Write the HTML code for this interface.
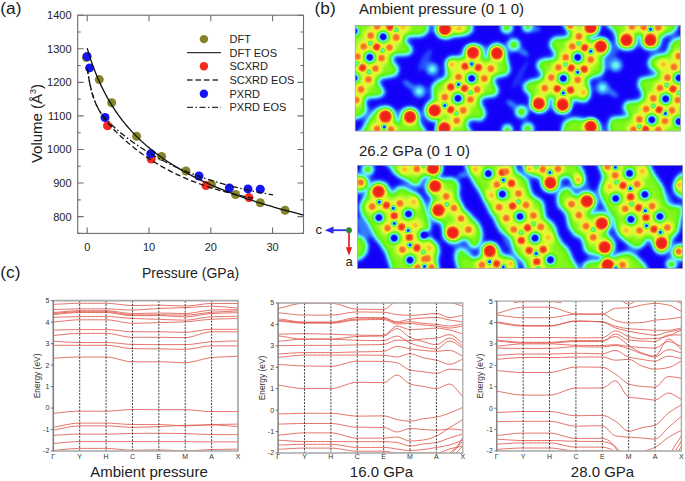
<!DOCTYPE html>
<html><head><meta charset="utf-8"><style>
html,body{margin:0;padding:0;background:#fff;}
svg{display:block;}
svg text{font-family:"Liberation Sans",sans-serif;}
</style></head><body>
<svg width="685" height="481" viewBox="0 0 685 481">
<rect width="685" height="481" fill="#fff"/>
<rect x="77.7" y="15.2" width="225.8" height="218.20000000000002" fill="none" stroke="#6e6e6e" stroke-width="1.1"/>
<path d="M77.7 216.62h6M303.5 216.62h-6M77.7 183.05h6M303.5 183.05h-6M77.7 149.48h6M303.5 149.48h-6M77.7 115.91h6M303.5 115.91h-6M77.7 82.34h6M303.5 82.34h-6M77.7 48.77h6M303.5 48.77h-6M77.7 15.20h6M303.5 15.20h-6M77.7 233.41h3M303.5 233.41h-3M77.7 199.83h3M303.5 199.83h-3M77.7 166.26h3M303.5 166.26h-3M77.7 132.69h3M303.5 132.69h-3M77.7 99.12h3M303.5 99.12h-3M77.7 65.55h3M303.5 65.55h-3M77.7 31.98h3M303.5 31.98h-3M87.20 233.4v-6M87.20 15.2v6M149.00 233.4v-6M149.00 15.2v6M210.80 233.4v-6M210.80 15.2v6M272.60 233.4v-6M272.60 15.2v6" stroke="#6e6e6e" stroke-width="1.1" fill="none"/>
<text x="71.6" y="220.52" text-anchor="end" font-size="11" fill="#222">800</text>
<text x="71.6" y="186.95" text-anchor="end" font-size="11" fill="#222">900</text>
<text x="71.6" y="153.38" text-anchor="end" font-size="11" fill="#222">1000</text>
<text x="71.6" y="119.81" text-anchor="end" font-size="11" fill="#222">1100</text>
<text x="71.6" y="86.24" text-anchor="end" font-size="11" fill="#222">1200</text>
<text x="71.6" y="52.67" text-anchor="end" font-size="11" fill="#222">1300</text>
<text x="71.6" y="19.10" text-anchor="end" font-size="11" fill="#222">1400</text>
<text x="87.20" y="251.2" text-anchor="middle" font-size="11" fill="#222">0</text>
<text x="149.00" y="251.2" text-anchor="middle" font-size="11" fill="#222">10</text>
<text x="210.80" y="251.2" text-anchor="middle" font-size="11" fill="#222">20</text>
<text x="272.60" y="251.2" text-anchor="middle" font-size="11" fill="#222">30</text>
<text x="190.5" y="277.5" text-anchor="middle" font-size="14" fill="#222">Pressure (GPa)</text>
<text transform="translate(41.5 123.5) rotate(-90)" text-anchor="middle" font-size="15" fill="#222">Volume (Å<tspan font-size="9" dy="-6">3</tspan><tspan dy="6">)</tspan></text>
<text x="0.3" y="13.6" font-size="17.3" fill="#222">(a)</text>
<g fill="#84842a"><circle cx="86.5" cy="57.5" r="4.5"/><circle cx="99.3" cy="79.6" r="4.5"/><circle cx="111.7" cy="102.8" r="4.5"/><circle cx="136.6" cy="136.3" r="4.5"/><circle cx="161.6" cy="156.4" r="4.5"/><circle cx="186.0" cy="171.0" r="4.5"/><circle cx="211.4" cy="184.2" r="4.5"/><circle cx="235.6" cy="194.5" r="4.5"/><circle cx="260.3" cy="202.7" r="4.5"/><circle cx="285.1" cy="210.2" r="4.5"/></g>
<g fill="#f42a1c"><circle cx="107.5" cy="125.7" r="4.5"/><circle cx="151.2" cy="159.1" r="4.5"/><circle cx="206.0" cy="185.6" r="4.5"/><circle cx="249.0" cy="197.6" r="4.5"/></g>
<g fill="#1414f4"><circle cx="87.1" cy="56.5" r="4.5"/><circle cx="89.6" cy="67.9" r="4.5"/><circle cx="105.0" cy="117.5" r="4.5"/><circle cx="150.8" cy="153.7" r="4.5"/><circle cx="199.0" cy="176.0" r="4.5"/><circle cx="229.4" cy="188.0" r="4.5"/><circle cx="248.0" cy="188.9" r="4.5"/><circle cx="260.3" cy="189.2" r="4.5"/></g>
<path d="M87.20 48.17 L89.02 54.22 L90.84 59.84 L92.65 65.08 L94.47 69.98 L96.29 74.58 L98.11 78.92 L99.92 83.01 L101.74 86.89 L103.56 90.57 L105.38 94.07 L107.19 97.41 L109.01 100.59 L110.83 103.64 L112.65 106.56 L114.46 109.36 L116.28 112.05 L118.10 114.63 L119.92 117.12 L121.74 119.53 L123.55 121.84 L125.37 124.08 L127.19 126.25 L129.01 128.34 L130.82 130.37 L132.64 132.34 L134.46 134.25 L136.28 136.11 L138.09 137.91 L139.91 139.66 L141.73 141.36 L143.55 143.02 L145.36 144.64 L147.18 146.21 L149.00 147.74 L150.82 149.24 L152.64 150.70 L154.45 152.13 L156.27 153.53 L158.09 154.89 L159.91 156.22 L161.72 157.52 L163.54 158.80 L165.36 160.05 L167.18 161.27 L168.99 162.47 L170.81 163.64 L172.63 164.80 L174.45 165.92 L176.26 167.03 L178.08 168.12 L179.90 169.18 L181.72 170.23 L183.54 171.26 L185.35 172.27 L187.17 173.26 L188.99 174.24 L190.81 175.19 L192.62 176.14 L194.44 177.06 L196.26 177.97 L198.08 178.87 L199.89 179.76 L201.71 180.62 L203.53 181.48 L205.35 182.32 L207.16 183.15 L208.98 183.97 L210.80 184.78 L212.62 185.57 L214.44 186.35 L216.25 187.12 L218.07 187.88 L219.89 188.63 L221.71 189.37 L223.52 190.10 L225.34 190.82 L227.16 191.53 L228.98 192.23 L230.79 192.92 L232.61 193.61 L234.43 194.28 L236.25 194.95 L238.06 195.60 L239.88 196.25 L241.70 196.90 L243.52 197.53 L245.34 198.16 L247.15 198.77 L248.97 199.38 L250.79 199.99 L252.61 200.59 L254.42 201.18 L256.24 201.76 L258.06 202.34 L259.88 202.91 L261.69 203.47 L263.51 204.03 L265.33 204.58 L267.15 205.13 L268.96 205.67 L270.78 206.21 L272.60 206.73 L274.42 207.26 L276.24 207.78 L278.05 208.29 L279.87 208.80 L281.69 209.30 L283.51 209.80 L285.32 210.29 L287.14 210.78 L288.96 211.26 L290.78 211.74 L292.59 212.22 L294.41 212.69 L296.23 213.15 L298.05 213.61 L299.86 214.07 L301.68 214.52 L303.50 214.97" stroke="#111" stroke-width="1.3" fill="none"/>
<path d="M87.20 68.18 L88.59 77.05 L89.99 84.27 L91.38 90.21 L92.77 95.17 L94.17 99.36 L95.56 102.97 L96.95 106.12 L98.35 108.90 L99.74 111.41 L101.13 113.70 L102.53 115.81 L103.92 117.78 L105.31 119.64 L106.71 121.40 L108.10 123.09 L109.49 124.71 L110.89 126.28 L112.28 127.80 L113.67 129.28 L115.07 130.72 L116.46 132.13 L117.85 133.51 L119.25 134.86 L120.64 136.18 L122.03 137.48 L123.43 138.75 L124.82 140.00 L126.21 141.23 L127.61 142.44 L129.00 143.63 L130.39 144.79 L131.78 145.94 L133.18 147.07 L134.57 148.18 L135.96 149.27 L137.36 150.34 L138.75 151.39 L140.14 152.43 L141.54 153.45 L142.93 154.45 L144.32 155.44 L145.72 156.41 L147.11 157.36 L148.50 158.30 L149.90 159.22 L151.29 160.13 L152.68 161.02 L154.08 161.90 L155.47 162.76 L156.86 163.61 L158.26 164.44 L159.65 165.27 L161.04 166.07 L162.44 166.87 L163.83 167.65 L165.22 168.42 L166.62 169.17 L168.01 169.92 L169.40 170.65 L170.80 171.37 L172.19 172.07 L173.58 172.77 L174.98 173.45 L176.37 174.13 L177.76 174.79 L179.16 175.44 L180.55 176.08 L181.94 176.71 L183.34 177.33 L184.73 177.94 L186.12 178.54 L187.52 179.13 L188.91 179.71 L190.30 180.28 L191.70 180.84 L193.09 181.39 L194.48 181.93 L195.88 182.46 L197.27 182.99 L198.66 183.50 L200.06 184.01 L201.45 184.51 L202.84 185.00 L204.24 185.48 L205.63 185.96 L207.02 186.42 L208.42 186.88 L209.81 187.34 L211.20 187.78 L212.59 188.22 L213.99 188.65 L215.38 189.07 L216.77 189.48 L218.17 189.89 L219.56 190.30 L220.95 190.69 L222.35 191.08 L223.74 191.46 L225.13 191.84 L226.53 192.21 L227.92 192.57 L229.31 192.93 L230.71 193.28 L232.10 193.63 L233.49 193.97 L234.89 194.30 L236.28 194.63 L237.67 194.96 L239.07 195.28 L240.46 195.59 L241.85 195.90 L243.25 196.20 L244.64 196.50 L246.03 196.79 L247.43 197.08 L248.82 197.37 L250.21 197.64 L251.61 197.92 L253.00 198.19" stroke="#111" stroke-width="1.3" fill="none" stroke-dasharray="5.5 3"/>
<path d="M87.20 67.92 L88.76 78.20 L90.32 86.21 L91.88 92.55 L93.45 97.65 L95.01 101.83 L96.57 105.32 L98.13 108.30 L99.69 110.90 L101.25 113.21 L102.81 115.29 L104.37 117.21 L105.94 119.00 L107.50 120.69 L109.06 122.29 L110.62 123.84 L112.18 125.32 L113.74 126.76 L115.30 128.16 L116.87 129.53 L118.43 130.87 L119.99 132.18 L121.55 133.46 L123.11 134.72 L124.67 135.95 L126.23 137.16 L127.79 138.36 L129.36 139.53 L130.92 140.68 L132.48 141.82 L134.04 142.93 L135.60 144.03 L137.16 145.11 L138.72 146.17 L140.29 147.21 L141.85 148.24 L143.41 149.25 L144.97 150.24 L146.53 151.22 L148.09 152.18 L149.65 153.12 L151.22 154.05 L152.78 154.97 L154.34 155.87 L155.90 156.76 L157.46 157.63 L159.02 158.49 L160.58 159.33 L162.14 160.16 L163.71 160.98 L165.27 161.78 L166.83 162.57 L168.39 163.35 L169.95 164.11 L171.51 164.87 L173.07 165.61 L174.64 166.34 L176.20 167.05 L177.76 167.76 L179.32 168.45 L180.88 169.14 L182.44 169.81 L184.00 170.47 L185.56 171.12 L187.13 171.76 L188.69 172.39 L190.25 173.01 L191.81 173.61 L193.37 174.21 L194.93 174.80 L196.49 175.38 L198.06 175.95 L199.62 176.52 L201.18 177.07 L202.74 177.61 L204.30 178.15 L205.86 178.67 L207.42 179.19 L208.98 179.70 L210.55 180.20 L212.11 180.69 L213.67 181.18 L215.23 181.65 L216.79 182.12 L218.35 182.58 L219.91 183.04 L221.48 183.48 L223.04 183.92 L224.60 184.36 L226.16 184.78 L227.72 185.20 L229.28 185.61 L230.84 186.02 L232.41 186.42 L233.97 186.81 L235.53 187.19 L237.09 187.57 L238.65 187.95 L240.21 188.31 L241.77 188.68 L243.33 189.03 L244.90 189.38 L246.46 189.73 L248.02 190.06 L249.58 190.40 L251.14 190.72 L252.70 191.05 L254.26 191.36 L255.83 191.68 L257.39 191.98 L258.95 192.29 L260.51 192.58 L262.07 192.88 L263.63 193.16 L265.19 193.45 L266.75 193.72 L268.32 194.00 L269.88 194.27 L271.44 194.53 L273.00 194.79" stroke="#111" stroke-width="1.3" fill="none" stroke-dasharray="6 2.5 1.5 2.5"/>
<circle cx="203.9" cy="39.1" r="4.2" fill="#84842a"/>
<circle cx="203.9" cy="66.2" r="4.2" fill="#f42a1c"/>
<circle cx="203.9" cy="93.8" r="4.2" fill="#1414f4"/>
<path d="M187 52.6H221" stroke="#333" stroke-width="1.3"/>
<path d="M187 80.0H221" stroke="#333" stroke-width="1.3" stroke-dasharray="5.5 3"/>
<path d="M187 107.4H221" stroke="#333" stroke-width="1.3" stroke-dasharray="6 2.5 1.5 2.5"/>
<text x="229.5" y="43.0" font-size="11" fill="#222">DFT</text>
<text x="229.5" y="56.5" font-size="11" fill="#222">DFT EOS</text>
<text x="229.5" y="70.1" font-size="11" fill="#222">SCXRD</text>
<text x="229.5" y="83.9" font-size="11" fill="#222">SCXRD EOS</text>
<text x="229.5" y="97.7" font-size="11" fill="#222">PXRD</text>
<text x="229.5" y="111.3" font-size="11" fill="#222">PXRD EOS</text>
<text x="314.6" y="13.8" font-size="17.3" fill="#222">(b)</text>
<text x="359" y="13.7" font-size="15" fill="#222">Ambient pressure (0 1 0)</text>
<text x="359" y="155.7" font-size="15" fill="#222">26.2 GPa (0 1 0)</text>
<clipPath id="f1c"><rect x="355.2" y="25.5" width="325.3" height="105.6"/></clipPath>
<clipPath id="f1p"><polygon points="350,20 426.6,20 426.6,25 427.2,28.5 425.4,32.6 420.7,34.9 413.8,34.9 407.9,35.5 405,37.8 404.5,41.3 406.2,44.8 409.7,47.1 410.9,50.6 409.1,52.9 403.3,54.1 396.3,53.5 392.2,55.3 391.1,59.3 392.8,64 396.3,66.9 397.1,70 395.3,74.1 388.9,75.8 382,76.4 377.9,79.3 377.3,83.4 380.2,87.5 383.1,92.1 380.8,95 375,96.2 368,96.2 364.5,99.1 363.9,103.8 365.6,108.4 364.5,113.1 359.8,116 356.3,117.2 350,118"/><polygon points="355,136 363,131 365.6,126 369.1,118.9 376.1,110.7 380.8,108.4 387.8,107.8 392.4,110.7 394.8,116.6 396.5,123.5 398,124.5 400.7,118.1 403,111.1 408.8,108.8 414.6,109.9 417.5,114.6 418.1,121.6 420.4,126.2 423.9,131 425,136"/><polygon points="435,20 437,25 436.4,30.8 440.5,36.1 447.5,37.2 453.3,34.9 460.3,34.3 467.3,33.2 471.3,29.7 470.7,25 470,20"/><polygon points="467.3,47.7 473.1,46 478.9,46.5 482.4,48.3 482.9,55.3 485.8,59.9 489.3,57.6 489.9,50.6 492.2,46.5 496.9,44.8 502.1,47.1 504.5,52.9 505.9,59.2 507.4,65.4 508.5,70.6 505.3,74.2 498.1,75.3 493.4,77.3 492.3,82 495,86.2 497,90.3 495,94.5 487.7,95.5 481.4,96.6 479.4,100.7 479.5,104.1 483,109.9 484.2,114.6 480.7,119.2 475,118 469.5,118.5 466,122 465.7,125.9 469.3,131 470,136 437.9,136 437.9,131 439.1,128.6 441.5,124.5 440.2,120.4 434.4,119.8 428.6,118.1 426.3,113.4 426.3,107.6 429.8,102.9 434.4,99.5 433.3,93.6 433.3,86.6 437.9,82 446,78.5 447.5,75.1 447.5,69.2 446.9,62.3 449.8,58.8 456.8,58.2 464.9,56.4 464.9,51.8"/><polygon points="565,20 565,25 569.1,28.5 570.2,34.3 567.9,37.8 562.1,38.4 556.3,38.4 552.2,40.7 551,45.4 553.9,49.5 556.3,52.9 555.7,58.2 551.6,59.9 545.8,59.9 540,61.7 538.2,65.7 540.5,69.8 543.5,72.7 542.9,76.2 540,79.7 529.5,82 524.8,85.5 526,90.1 530.6,93.6 531.8,99.5 533,106.4 537.6,111.1 543.4,110.5 546.9,106.4 548.1,98.3 551.6,96.5 553.9,98.3 554.5,106.4 557.4,111.1 563.2,111.7 567.9,109.9 570.2,104.1 572.6,98.3 578,99.5 585,100.6 588.5,96 588.5,89 587.3,82 587.8,78.6 592.5,76.2 600.6,73.9 603,69.2 602.4,63.4 602.4,57.6 605.3,54.1 608.8,50.6 608.8,45.4 605.3,40.7 599.4,39.6 593.6,40.7 589,39.6 587.8,35.5 591.3,32.6 597.1,29.7 598.3,25 598,20"/><polygon points="608,20 608.8,25 614.6,29.7 617.5,36.6 618.1,43.6 621.6,47.1 625,48.3 632,47.7 635.5,43.6 636.6,36.6 639,33.7 642.5,35.5 642.5,43.6 646,47.7 654.1,48.3 658.8,44.8 659.9,37.8 664.6,34.3 671.6,32 675.1,28.5 676.2,25 676,20"/><polygon points="690,37 679.7,39 673.9,40.7 670.4,45.4 669.8,50.6 665.7,54.7 657.6,55.9 651.8,58.2 649.4,63.4 651.8,68.1 657,70.4 657.6,73.9 655.9,77 650,77.9 640.6,79.7 639.5,85.5 643,91.3 644.1,97.1 640.6,101.2 633.7,102.4 627,103 624.6,107.6 628.1,112.3 629.2,116.9 624,118 616,118.5 611.8,119.2 609.5,126.2 610.6,131 610,136 690,136"/><polygon points="563,136 563.2,131 564.4,123.9 569.1,120.4 575,119.2 580,120 585,121 592,120.4 597.8,123.9 600.1,131 600,136"/></clipPath>
<filter id="f1" filterUnits="userSpaceOnUse" x="340" y="0" width="360" height="300" color-interpolation-filters="sRGB"><feComponentTransfer><feFuncR type="table" tableValues="0.078 0.086 0.118 0.176 0.275 0.373 0.412 0.373 0.333 0.353 0.431 0.588 0.765 0.882 0.961 0.961 0.961 0.961 0.961 0.949 0.941"/><feFuncG type="table" tableValues="0.000 0.039 0.196 0.431 0.667 0.882 0.980 0.980 0.973 0.961 0.961 0.973 0.980 0.973 0.922 0.765 0.588 0.451 0.314 0.196 0.137"/><feFuncB type="table" tableValues="0.980 0.980 0.988 1.000 1.000 0.980 0.902 0.588 0.275 0.098 0.078 0.137 0.196 0.196 0.176 0.176 0.176 0.157 0.137 0.110 0.098"/></feComponentTransfer></filter><filter id="f1B" filterUnits="userSpaceOnUse" x="340" y="0" width="360" height="300" color-interpolation-filters="sRGB"><feGaussianBlur stdDeviation="2.1"/></filter><filter id="f1S" filterUnits="userSpaceOnUse" x="340" y="0" width="360" height="300" color-interpolation-filters="sRGB"><feGaussianBlur stdDeviation="1.3"/></filter>
<g clip-path="url(#f1c)"><g filter="url(#f1)"><g filter="url(#f1B)">
<rect x="345.2" y="15.5" width="345.3" height="125.6" fill="#000"/>
<ellipse cx="523.0" cy="52.0" rx="8.0" ry="4.0" transform="rotate(35.0 523.0 52.0)" fill="#2b2b2b"/>
<ellipse cx="512.0" cy="104.5" rx="8.0" ry="4.0" transform="rotate(35.0 512.0 104.5)" fill="#2b2b2b"/>
<ellipse cx="409.0" cy="85.0" rx="9.0" ry="4.0" transform="rotate(35.0 409.0 85.0)" fill="#292929"/>
<ellipse cx="611.8" cy="92.5" rx="9.0" ry="4.0" transform="rotate(35.0 611.8 92.5)" fill="#292929"/>
<ellipse cx="535.0" cy="29.0" rx="7.0" ry="4.0" transform="rotate(0.0 535.0 29.0)" fill="#292929"/>
<ellipse cx="425.0" cy="60.0" rx="5.0" ry="14.0" transform="rotate(30.0 425.0 60.0)" fill="#1f1f1f"/>
<ellipse cx="612.0" cy="55.0" rx="5.0" ry="14.0" transform="rotate(30.0 612.0 55.0)" fill="#1f1f1f"/>
<ellipse cx="520.0" cy="75.0" rx="4.0" ry="18.0" transform="rotate(30.0 520.0 75.0)" fill="#1a1a1a"/>
<g fill="none" stroke="#292929" stroke-width="9" stroke-linejoin="round"><polygon points="350,20 426.6,20 426.6,25 427.2,28.5 425.4,32.6 420.7,34.9 413.8,34.9 407.9,35.5 405,37.8 404.5,41.3 406.2,44.8 409.7,47.1 410.9,50.6 409.1,52.9 403.3,54.1 396.3,53.5 392.2,55.3 391.1,59.3 392.8,64 396.3,66.9 397.1,70 395.3,74.1 388.9,75.8 382,76.4 377.9,79.3 377.3,83.4 380.2,87.5 383.1,92.1 380.8,95 375,96.2 368,96.2 364.5,99.1 363.9,103.8 365.6,108.4 364.5,113.1 359.8,116 356.3,117.2 350,118"/><polygon points="355,136 363,131 365.6,126 369.1,118.9 376.1,110.7 380.8,108.4 387.8,107.8 392.4,110.7 394.8,116.6 396.5,123.5 398,124.5 400.7,118.1 403,111.1 408.8,108.8 414.6,109.9 417.5,114.6 418.1,121.6 420.4,126.2 423.9,131 425,136"/><polygon points="435,20 437,25 436.4,30.8 440.5,36.1 447.5,37.2 453.3,34.9 460.3,34.3 467.3,33.2 471.3,29.7 470.7,25 470,20"/><polygon points="467.3,47.7 473.1,46 478.9,46.5 482.4,48.3 482.9,55.3 485.8,59.9 489.3,57.6 489.9,50.6 492.2,46.5 496.9,44.8 502.1,47.1 504.5,52.9 505.9,59.2 507.4,65.4 508.5,70.6 505.3,74.2 498.1,75.3 493.4,77.3 492.3,82 495,86.2 497,90.3 495,94.5 487.7,95.5 481.4,96.6 479.4,100.7 479.5,104.1 483,109.9 484.2,114.6 480.7,119.2 475,118 469.5,118.5 466,122 465.7,125.9 469.3,131 470,136 437.9,136 437.9,131 439.1,128.6 441.5,124.5 440.2,120.4 434.4,119.8 428.6,118.1 426.3,113.4 426.3,107.6 429.8,102.9 434.4,99.5 433.3,93.6 433.3,86.6 437.9,82 446,78.5 447.5,75.1 447.5,69.2 446.9,62.3 449.8,58.8 456.8,58.2 464.9,56.4 464.9,51.8"/><polygon points="565,20 565,25 569.1,28.5 570.2,34.3 567.9,37.8 562.1,38.4 556.3,38.4 552.2,40.7 551,45.4 553.9,49.5 556.3,52.9 555.7,58.2 551.6,59.9 545.8,59.9 540,61.7 538.2,65.7 540.5,69.8 543.5,72.7 542.9,76.2 540,79.7 529.5,82 524.8,85.5 526,90.1 530.6,93.6 531.8,99.5 533,106.4 537.6,111.1 543.4,110.5 546.9,106.4 548.1,98.3 551.6,96.5 553.9,98.3 554.5,106.4 557.4,111.1 563.2,111.7 567.9,109.9 570.2,104.1 572.6,98.3 578,99.5 585,100.6 588.5,96 588.5,89 587.3,82 587.8,78.6 592.5,76.2 600.6,73.9 603,69.2 602.4,63.4 602.4,57.6 605.3,54.1 608.8,50.6 608.8,45.4 605.3,40.7 599.4,39.6 593.6,40.7 589,39.6 587.8,35.5 591.3,32.6 597.1,29.7 598.3,25 598,20"/><polygon points="608,20 608.8,25 614.6,29.7 617.5,36.6 618.1,43.6 621.6,47.1 625,48.3 632,47.7 635.5,43.6 636.6,36.6 639,33.7 642.5,35.5 642.5,43.6 646,47.7 654.1,48.3 658.8,44.8 659.9,37.8 664.6,34.3 671.6,32 675.1,28.5 676.2,25 676,20"/><polygon points="690,37 679.7,39 673.9,40.7 670.4,45.4 669.8,50.6 665.7,54.7 657.6,55.9 651.8,58.2 649.4,63.4 651.8,68.1 657,70.4 657.6,73.9 655.9,77 650,77.9 640.6,79.7 639.5,85.5 643,91.3 644.1,97.1 640.6,101.2 633.7,102.4 627,103 624.6,107.6 628.1,112.3 629.2,116.9 624,118 616,118.5 611.8,119.2 609.5,126.2 610.6,131 610,136 690,136"/><polygon points="563,136 563.2,131 564.4,123.9 569.1,120.4 575,119.2 580,120 585,121 592,120.4 597.8,123.9 600.1,131 600,136"/></g>
<circle cx="506.8" cy="27.3" r="8.5" fill="#292929"/>
<circle cx="527.7" cy="26.7" r="7.7" fill="#292929"/>
<circle cx="513.8" cy="44.8" r="8.7" fill="#292929"/>
<circle cx="521.4" cy="111.7" r="8.7" fill="#292929"/>
<circle cx="507.4" cy="129.7" r="7.7" fill="#292929"/>
<circle cx="527.7" cy="128.6" r="8.5" fill="#292929"/>
<circle cx="432.3" cy="69.2" r="7.9" fill="#292929"/>
<circle cx="419.3" cy="91.3" r="8.1" fill="#292929"/>
<circle cx="615.7" cy="65.2" r="8.3" fill="#292929"/>
<circle cx="602.5" cy="87.8" r="8.1" fill="#292929"/>
<g fill="#858585"><polygon points="350,20 426.6,20 426.6,25 427.2,28.5 425.4,32.6 420.7,34.9 413.8,34.9 407.9,35.5 405,37.8 404.5,41.3 406.2,44.8 409.7,47.1 410.9,50.6 409.1,52.9 403.3,54.1 396.3,53.5 392.2,55.3 391.1,59.3 392.8,64 396.3,66.9 397.1,70 395.3,74.1 388.9,75.8 382,76.4 377.9,79.3 377.3,83.4 380.2,87.5 383.1,92.1 380.8,95 375,96.2 368,96.2 364.5,99.1 363.9,103.8 365.6,108.4 364.5,113.1 359.8,116 356.3,117.2 350,118"/><polygon points="355,136 363,131 365.6,126 369.1,118.9 376.1,110.7 380.8,108.4 387.8,107.8 392.4,110.7 394.8,116.6 396.5,123.5 398,124.5 400.7,118.1 403,111.1 408.8,108.8 414.6,109.9 417.5,114.6 418.1,121.6 420.4,126.2 423.9,131 425,136"/><polygon points="435,20 437,25 436.4,30.8 440.5,36.1 447.5,37.2 453.3,34.9 460.3,34.3 467.3,33.2 471.3,29.7 470.7,25 470,20"/><polygon points="467.3,47.7 473.1,46 478.9,46.5 482.4,48.3 482.9,55.3 485.8,59.9 489.3,57.6 489.9,50.6 492.2,46.5 496.9,44.8 502.1,47.1 504.5,52.9 505.9,59.2 507.4,65.4 508.5,70.6 505.3,74.2 498.1,75.3 493.4,77.3 492.3,82 495,86.2 497,90.3 495,94.5 487.7,95.5 481.4,96.6 479.4,100.7 479.5,104.1 483,109.9 484.2,114.6 480.7,119.2 475,118 469.5,118.5 466,122 465.7,125.9 469.3,131 470,136 437.9,136 437.9,131 439.1,128.6 441.5,124.5 440.2,120.4 434.4,119.8 428.6,118.1 426.3,113.4 426.3,107.6 429.8,102.9 434.4,99.5 433.3,93.6 433.3,86.6 437.9,82 446,78.5 447.5,75.1 447.5,69.2 446.9,62.3 449.8,58.8 456.8,58.2 464.9,56.4 464.9,51.8"/><polygon points="565,20 565,25 569.1,28.5 570.2,34.3 567.9,37.8 562.1,38.4 556.3,38.4 552.2,40.7 551,45.4 553.9,49.5 556.3,52.9 555.7,58.2 551.6,59.9 545.8,59.9 540,61.7 538.2,65.7 540.5,69.8 543.5,72.7 542.9,76.2 540,79.7 529.5,82 524.8,85.5 526,90.1 530.6,93.6 531.8,99.5 533,106.4 537.6,111.1 543.4,110.5 546.9,106.4 548.1,98.3 551.6,96.5 553.9,98.3 554.5,106.4 557.4,111.1 563.2,111.7 567.9,109.9 570.2,104.1 572.6,98.3 578,99.5 585,100.6 588.5,96 588.5,89 587.3,82 587.8,78.6 592.5,76.2 600.6,73.9 603,69.2 602.4,63.4 602.4,57.6 605.3,54.1 608.8,50.6 608.8,45.4 605.3,40.7 599.4,39.6 593.6,40.7 589,39.6 587.8,35.5 591.3,32.6 597.1,29.7 598.3,25 598,20"/><polygon points="608,20 608.8,25 614.6,29.7 617.5,36.6 618.1,43.6 621.6,47.1 625,48.3 632,47.7 635.5,43.6 636.6,36.6 639,33.7 642.5,35.5 642.5,43.6 646,47.7 654.1,48.3 658.8,44.8 659.9,37.8 664.6,34.3 671.6,32 675.1,28.5 676.2,25 676,20"/><polygon points="690,37 679.7,39 673.9,40.7 670.4,45.4 669.8,50.6 665.7,54.7 657.6,55.9 651.8,58.2 649.4,63.4 651.8,68.1 657,70.4 657.6,73.9 655.9,77 650,77.9 640.6,79.7 639.5,85.5 643,91.3 644.1,97.1 640.6,101.2 633.7,102.4 627,103 624.6,107.6 628.1,112.3 629.2,116.9 624,118 616,118.5 611.8,119.2 609.5,126.2 610.6,131 610,136 690,136"/><polygon points="563,136 563.2,131 564.4,123.9 569.1,120.4 575,119.2 580,120 585,121 592,120.4 597.8,123.9 600.1,131 600,136"/></g>
<circle cx="506.8" cy="27.3" r="5.2" fill="#606060"/>
<circle cx="527.7" cy="26.7" r="4.4" fill="#606060"/>
<circle cx="513.8" cy="44.8" r="5.4" fill="#606060"/>
<circle cx="521.4" cy="111.7" r="5.4" fill="#606060"/>
<circle cx="507.4" cy="129.7" r="4.4" fill="#606060"/>
<circle cx="527.7" cy="128.6" r="5.2" fill="#606060"/>
<circle cx="432.3" cy="69.2" r="4.6" fill="#3f3f3f"/>
<circle cx="419.3" cy="91.3" r="4.8" fill="#3f3f3f"/>
<circle cx="615.7" cy="65.2" r="5.0" fill="#3f3f3f"/>
<circle cx="602.5" cy="87.8" r="4.8" fill="#3f3f3f"/>
<g fill="#a8a8a8" clip-path="url(#f1p)"><circle cx="377.2" cy="26.5" r="7"/><circle cx="390.0" cy="27.0" r="7"/><circle cx="403.0" cy="27.0" r="7"/><circle cx="370.6" cy="35.6" r="7"/><circle cx="396.2" cy="37.4" r="7"/><circle cx="363.7" cy="46.5" r="7"/><circle cx="376.7" cy="47.0" r="7"/><circle cx="389.5" cy="47.5" r="7"/><circle cx="357.4" cy="56.5" r="7"/><circle cx="381.5" cy="58.2" r="7"/><circle cx="362.5" cy="67.7" r="7"/><circle cx="375.5" cy="68.5" r="7"/><circle cx="368.5" cy="79.5" r="7"/><circle cx="361.0" cy="89.4" r="7"/><circle cx="356.2" cy="100.1" r="7"/><circle cx="383.2" cy="36.8" r="7.5"/><circle cx="369.8" cy="57.3" r="7.5"/><circle cx="354.0" cy="31.0" r="7.5"/><circle cx="354.0" cy="78.0" r="7.5"/><circle cx="396.2" cy="29.7" r="6.5"/><circle cx="370.6" cy="43.3" r="6.5"/><circle cx="382.5" cy="50.5" r="6.5"/><circle cx="357.0" cy="63.8" r="6.5"/><circle cx="368.7" cy="72.0" r="6.5"/><circle cx="384.3" cy="127.1" r="6.5"/><circle cx="377.1" cy="128.9" r="7"/><circle cx="390.9" cy="129.5" r="7"/><circle cx="459.1" cy="28.5" r="7"/><circle cx="471.7" cy="63.9" r="6.5"/><circle cx="465.1" cy="66.3" r="7"/><circle cx="478.3" cy="67.5" r="7"/><circle cx="490.9" cy="68.7" r="7"/><circle cx="451.4" cy="64.5" r="7"/><circle cx="458.5" cy="77.0" r="7"/><circle cx="471.7" cy="78.5" r="7.5"/><circle cx="484.3" cy="78.5" r="7"/><circle cx="458.5" cy="84.6" r="6.5"/><circle cx="450.8" cy="87.0" r="7"/><circle cx="464.5" cy="88.2" r="7"/><circle cx="477.1" cy="89.4" r="7"/><circle cx="470.5" cy="92.4" r="6.5"/><circle cx="444.8" cy="97.2" r="7"/><circle cx="458.0" cy="98.4" r="7.5"/><circle cx="470.5" cy="99.5" r="7"/><circle cx="444.8" cy="105.5" r="6.5"/><circle cx="450.8" cy="109.7" r="7"/><circle cx="463.3" cy="110.3" r="7"/><circle cx="456.2" cy="113.3" r="6.5"/><circle cx="456.8" cy="120.5" r="7"/><circle cx="578.9" cy="36.4" r="7"/><circle cx="578.9" cy="43.6" r="6.5"/><circle cx="572.3" cy="46.5" r="7"/><circle cx="584.8" cy="47.7" r="7"/><circle cx="590.8" cy="51.3" r="6.5"/><circle cx="565.7" cy="57.3" r="7"/><circle cx="577.7" cy="57.3" r="7.5"/><circle cx="590.8" cy="59.7" r="7"/><circle cx="565.7" cy="64.5" r="6.5"/><circle cx="558.5" cy="67.5" r="7"/><circle cx="571.1" cy="68.1" r="7"/><circle cx="584.2" cy="69.3" r="7"/><circle cx="577.7" cy="72.3" r="6.5"/><circle cx="551.3" cy="77.5" r="7"/><circle cx="563.3" cy="78.5" r="7.5"/><circle cx="577.7" cy="79.8" r="7"/><circle cx="544.7" cy="88.2" r="7"/><circle cx="557.3" cy="88.8" r="7"/><circle cx="563.3" cy="93.0" r="6.5"/><circle cx="570.5" cy="90.0" r="7"/><circle cx="583.6" cy="92.4" r="7"/><circle cx="570.0" cy="26.0" r="7"/><circle cx="667.4" cy="77.6" r="7"/><circle cx="666.8" cy="85.0" r="6.5"/><circle cx="660.0" cy="88.0" r="7"/><circle cx="673.0" cy="89.0" r="7"/><circle cx="678.6" cy="93.0" r="6.5"/><circle cx="653.3" cy="98.3" r="7"/><circle cx="665.7" cy="98.9" r="7.5"/><circle cx="677.8" cy="100.0" r="7"/><circle cx="653.3" cy="106.0" r="6.5"/><circle cx="646.2" cy="109.0" r="7"/><circle cx="659.2" cy="109.8" r="7"/><circle cx="665.4" cy="113.4" r="6.5"/><circle cx="672.0" cy="110.4" r="7"/><circle cx="639.4" cy="119.3" r="7"/><circle cx="651.8" cy="119.8" r="7.5"/><circle cx="665.0" cy="121.0" r="7"/><circle cx="679.0" cy="121.6" r="7.5"/><circle cx="639.4" cy="126.7" r="6.5"/><circle cx="645.6" cy="129.3" r="7"/><circle cx="633.5" cy="129.7" r="7"/><circle cx="658.3" cy="129.8" r="7"/><circle cx="674.0" cy="66.9" r="7"/><circle cx="678.7" cy="56.2" r="7"/><circle cx="663.4" cy="64.6" r="7"/><circle cx="679.0" cy="78.0" r="7.5"/><circle cx="632.0" cy="26.5" r="7"/><circle cx="643.8" cy="27.0" r="7"/><circle cx="658.3" cy="27.3" r="7"/><circle cx="650.6" cy="29.2" r="6.5"/></g>
<circle cx="383.2" cy="36.8" r="5.1" fill="#000000"/>
<circle cx="369.8" cy="57.3" r="5.1" fill="#000000"/>
<circle cx="354.0" cy="31.0" r="5.1" fill="#000000"/>
<circle cx="354.0" cy="78.0" r="5.1" fill="#000000"/>
<circle cx="385.5" cy="116.3" r="7.6" fill="#cccccc"/>
<circle cx="410.1" cy="116.9" r="7.6" fill="#cccccc"/>
<circle cx="444.8" cy="29.2" r="7.6" fill="#cccccc"/>
<circle cx="472.9" cy="52.5" r="7.6" fill="#cccccc"/>
<circle cx="496.9" cy="53.1" r="7.6" fill="#cccccc"/>
<circle cx="471.7" cy="78.5" r="5.1" fill="#000000"/>
<circle cx="458.0" cy="98.4" r="5.1" fill="#000000"/>
<circle cx="434.5" cy="110.5" r="7.6" fill="#cccccc"/>
<circle cx="444.2" cy="128.3" r="7.6" fill="#cccccc"/>
<circle cx="590.8" cy="27.4" r="7.6" fill="#cccccc"/>
<circle cx="601.0" cy="46.3" r="7.6" fill="#cccccc"/>
<circle cx="577.7" cy="57.3" r="5.1" fill="#000000"/>
<circle cx="563.3" cy="78.5" r="5.1" fill="#000000"/>
<circle cx="538.8" cy="103.7" r="7.6" fill="#cccccc"/>
<circle cx="562.7" cy="104.9" r="7.6" fill="#cccccc"/>
<circle cx="665.7" cy="98.9" r="5.1" fill="#000000"/>
<circle cx="651.8" cy="119.8" r="5.1" fill="#000000"/>
<circle cx="679.0" cy="121.6" r="5.1" fill="#000000"/>
<circle cx="679.0" cy="78.0" r="5.1" fill="#000000"/>
<circle cx="590.8" cy="126.6" r="7.6" fill="#cccccc"/>
<circle cx="626.4" cy="40.1" r="7.6" fill="#cccccc"/>
<circle cx="650.4" cy="40.1" r="7.6" fill="#cccccc"/>
</g>
<g filter="url(#f1S)">
<circle cx="506.8" cy="27.3" r="2.4" fill="#808080"/>
<circle cx="527.7" cy="26.7" r="1.92" fill="#808080"/>
<circle cx="513.8" cy="44.8" r="2.52" fill="#808080"/>
<circle cx="521.4" cy="111.7" r="2.52" fill="#808080"/>
<circle cx="507.4" cy="129.7" r="1.92" fill="#808080"/>
<circle cx="527.7" cy="128.6" r="2.4" fill="#808080"/>
<circle cx="432.3" cy="69.2" r="2.04" fill="#545454"/>
<circle cx="419.3" cy="91.3" r="2.16" fill="#545454"/>
<circle cx="615.7" cy="65.2" r="2.28" fill="#545454"/>
<circle cx="602.5" cy="87.8" r="2.16" fill="#545454"/>
<circle cx="377.2" cy="26.5" r="3.6" fill="#dbdbdb"/>
<circle cx="390.0" cy="27.0" r="3.8" fill="#f2f2f2"/>
<circle cx="403.0" cy="27.0" r="3.0" fill="#c2c2c2"/>
<circle cx="370.6" cy="35.6" r="3.6" fill="#dbdbdb"/>
<circle cx="396.2" cy="37.4" r="3.6" fill="#dbdbdb"/>
<circle cx="363.7" cy="46.5" r="3.6" fill="#dbdbdb"/>
<circle cx="376.7" cy="47.0" r="3.8" fill="#f2f2f2"/>
<circle cx="389.5" cy="47.5" r="3.6" fill="#dbdbdb"/>
<circle cx="357.4" cy="56.5" r="3.6" fill="#dbdbdb"/>
<circle cx="381.5" cy="58.2" r="3.6" fill="#dbdbdb"/>
<circle cx="362.5" cy="67.7" r="3.8" fill="#f2f2f2"/>
<circle cx="375.5" cy="68.5" r="3.6" fill="#dbdbdb"/>
<circle cx="368.5" cy="79.5" r="3.6" fill="#dbdbdb"/>
<circle cx="361.0" cy="89.4" r="3.6" fill="#dbdbdb"/>
<circle cx="356.2" cy="100.1" r="3.6" fill="#dbdbdb"/>
<circle cx="383.2" cy="36.8" r="2.6" fill="#000000"/>
<circle cx="369.8" cy="57.3" r="2.6" fill="#000000"/>
<circle cx="354.0" cy="31.0" r="2.6" fill="#000000"/>
<circle cx="354.0" cy="78.0" r="2.6" fill="#000000"/>
<circle cx="396.2" cy="29.7" r="2.0" fill="#262626"/>
<circle cx="370.6" cy="43.3" r="2.0" fill="#262626"/>
<circle cx="382.5" cy="50.5" r="2.0" fill="#262626"/>
<circle cx="357.0" cy="63.8" r="2.0" fill="#262626"/>
<circle cx="368.7" cy="72.0" r="2.0" fill="#262626"/>
<circle cx="385.5" cy="116.3" r="5.8" fill="#ffffff"/>
<circle cx="410.1" cy="116.9" r="5.8" fill="#ffffff"/>
<circle cx="384.3" cy="127.1" r="2.5" fill="#000000"/>
<circle cx="377.1" cy="128.9" r="3.6" fill="#dbdbdb"/>
<circle cx="390.9" cy="129.5" r="3.6" fill="#dbdbdb"/>
<circle cx="444.8" cy="29.2" r="5.8" fill="#ffffff"/>
<circle cx="459.1" cy="28.5" r="3.0" fill="#c2c2c2"/>
<circle cx="472.9" cy="52.5" r="5.8" fill="#ffffff"/>
<circle cx="496.9" cy="53.1" r="5.8" fill="#ffffff"/>
<circle cx="471.7" cy="63.9" r="2.5" fill="#000000"/>
<circle cx="465.1" cy="66.3" r="3.8" fill="#f2f2f2"/>
<circle cx="478.3" cy="67.5" r="3.8" fill="#f2f2f2"/>
<circle cx="490.9" cy="68.7" r="3.6" fill="#dbdbdb"/>
<circle cx="451.4" cy="64.5" r="3.0" fill="#c2c2c2"/>
<circle cx="458.5" cy="77.0" r="3.6" fill="#dbdbdb"/>
<circle cx="471.7" cy="78.5" r="2.6" fill="#000000"/>
<circle cx="484.3" cy="78.5" r="3.6" fill="#dbdbdb"/>
<circle cx="458.5" cy="84.6" r="2.5" fill="#000000"/>
<circle cx="450.8" cy="87.0" r="3.8" fill="#f2f2f2"/>
<circle cx="464.5" cy="88.2" r="3.8" fill="#f2f2f2"/>
<circle cx="477.1" cy="89.4" r="3.6" fill="#dbdbdb"/>
<circle cx="470.5" cy="92.4" r="2.0" fill="#262626"/>
<circle cx="444.8" cy="97.2" r="3.6" fill="#dbdbdb"/>
<circle cx="458.0" cy="98.4" r="2.6" fill="#000000"/>
<circle cx="470.5" cy="99.5" r="3.6" fill="#dbdbdb"/>
<circle cx="444.8" cy="105.5" r="2.5" fill="#000000"/>
<circle cx="450.8" cy="109.7" r="3.8" fill="#f2f2f2"/>
<circle cx="463.3" cy="110.3" r="3.6" fill="#dbdbdb"/>
<circle cx="456.2" cy="113.3" r="2.0" fill="#262626"/>
<circle cx="434.5" cy="110.5" r="5.8" fill="#ffffff"/>
<circle cx="456.8" cy="120.5" r="3.6" fill="#dbdbdb"/>
<circle cx="444.2" cy="128.3" r="5.8" fill="#ffffff"/>
<circle cx="590.8" cy="27.4" r="5.8" fill="#ffffff"/>
<circle cx="601.0" cy="46.3" r="5.8" fill="#ffffff"/>
<circle cx="578.9" cy="36.4" r="3.6" fill="#dbdbdb"/>
<circle cx="578.9" cy="43.6" r="2.0" fill="#262626"/>
<circle cx="572.3" cy="46.5" r="3.6" fill="#dbdbdb"/>
<circle cx="584.8" cy="47.7" r="3.8" fill="#f2f2f2"/>
<circle cx="590.8" cy="51.3" r="2.5" fill="#000000"/>
<circle cx="565.7" cy="57.3" r="3.6" fill="#dbdbdb"/>
<circle cx="577.7" cy="57.3" r="2.6" fill="#000000"/>
<circle cx="590.8" cy="59.7" r="3.6" fill="#dbdbdb"/>
<circle cx="565.7" cy="64.5" r="2.0" fill="#262626"/>
<circle cx="558.5" cy="67.5" r="3.6" fill="#dbdbdb"/>
<circle cx="571.1" cy="68.1" r="3.8" fill="#f2f2f2"/>
<circle cx="584.2" cy="69.3" r="3.8" fill="#f2f2f2"/>
<circle cx="577.7" cy="72.3" r="2.5" fill="#000000"/>
<circle cx="551.3" cy="77.5" r="3.6" fill="#dbdbdb"/>
<circle cx="563.3" cy="78.5" r="2.6" fill="#000000"/>
<circle cx="577.7" cy="79.8" r="3.6" fill="#dbdbdb"/>
<circle cx="544.7" cy="88.2" r="3.6" fill="#dbdbdb"/>
<circle cx="557.3" cy="88.8" r="3.8" fill="#f2f2f2"/>
<circle cx="563.3" cy="93.0" r="2.5" fill="#000000"/>
<circle cx="570.5" cy="90.0" r="3.8" fill="#f2f2f2"/>
<circle cx="583.6" cy="92.4" r="3.0" fill="#c2c2c2"/>
<circle cx="538.8" cy="103.7" r="5.8" fill="#ffffff"/>
<circle cx="562.7" cy="104.9" r="5.8" fill="#ffffff"/>
<circle cx="570.0" cy="26.0" r="3.6" fill="#dbdbdb"/>
<circle cx="667.4" cy="77.6" r="3.6" fill="#dbdbdb"/>
<circle cx="666.8" cy="85.0" r="2.0" fill="#262626"/>
<circle cx="660.0" cy="88.0" r="3.6" fill="#dbdbdb"/>
<circle cx="673.0" cy="89.0" r="3.8" fill="#f2f2f2"/>
<circle cx="678.6" cy="93.0" r="2.0" fill="#262626"/>
<circle cx="653.3" cy="98.3" r="3.6" fill="#dbdbdb"/>
<circle cx="665.7" cy="98.9" r="2.6" fill="#000000"/>
<circle cx="677.8" cy="100.0" r="3.6" fill="#dbdbdb"/>
<circle cx="653.3" cy="106.0" r="2.0" fill="#262626"/>
<circle cx="646.2" cy="109.0" r="3.6" fill="#dbdbdb"/>
<circle cx="659.2" cy="109.8" r="3.8" fill="#f2f2f2"/>
<circle cx="665.4" cy="113.4" r="2.5" fill="#000000"/>
<circle cx="672.0" cy="110.4" r="3.6" fill="#dbdbdb"/>
<circle cx="639.4" cy="119.3" r="3.6" fill="#dbdbdb"/>
<circle cx="651.8" cy="119.8" r="2.6" fill="#000000"/>
<circle cx="665.0" cy="121.0" r="3.6" fill="#dbdbdb"/>
<circle cx="679.0" cy="121.6" r="2.6" fill="#000000"/>
<circle cx="639.4" cy="126.7" r="2.0" fill="#262626"/>
<circle cx="645.6" cy="129.3" r="3.8" fill="#f2f2f2"/>
<circle cx="633.5" cy="129.7" r="3.6" fill="#dbdbdb"/>
<circle cx="658.3" cy="129.8" r="3.6" fill="#dbdbdb"/>
<circle cx="674.0" cy="66.9" r="3.6" fill="#dbdbdb"/>
<circle cx="678.7" cy="56.2" r="3.6" fill="#dbdbdb"/>
<circle cx="663.4" cy="64.6" r="3.0" fill="#c2c2c2"/>
<circle cx="679.0" cy="78.0" r="2.6" fill="#000000"/>
<circle cx="590.8" cy="126.6" r="5.8" fill="#ffffff"/>
<circle cx="626.4" cy="40.1" r="5.8" fill="#ffffff"/>
<circle cx="650.4" cy="40.1" r="5.8" fill="#ffffff"/>
<circle cx="632.0" cy="26.5" r="3.6" fill="#dbdbdb"/>
<circle cx="643.8" cy="27.0" r="3.6" fill="#dbdbdb"/>
<circle cx="658.3" cy="27.3" r="3.6" fill="#dbdbdb"/>
<circle cx="650.6" cy="29.2" r="2.5" fill="#000000"/>
</g></g></g>
<rect x="355.2" y="25.5" width="325.3" height="105.6" fill="none" stroke="#9a9a9a" stroke-width="0.7"/>
<clipPath id="f2c"><rect x="357.5" y="165.3" width="325.20000000000005" height="103.19999999999999"/></clipPath>
<clipPath id="f2p"><polygon points="350,175 357,175.8 363.5,176.9 367.8,181.2 367.3,186.6 363.5,189.9 357,191 350,191"/><polygon points="350,236 357,236.3 362.8,238.6 366.3,245.6 365.1,252.6 360.5,257.2 357,258.4 350,258.4"/><polygon points="385,160 389.4,165 391.6,165 393.8,170.4 395,172 399.7,175.5 406.6,179 412.5,183.6 418.3,184.8 420,180.1 422.9,176.6 429.9,175.5 438,173.7 440.4,169.7 440.4,165 441,160"/><polygon points="371.1,187.7 373.2,183.9 378.6,182.8 385.1,184.5 388.4,189.9 391,193.5 394.8,193 398.5,188.3 404.3,188.3 410.1,191.8 417.1,195.3 420.6,199.9 424.1,205.7 425.3,211.5 427.6,217.4 428.7,221 429,226 427.5,231 428.5,238 433,242 437,246 438,252 436,258 436,264 437,269 438,275 390,275 393.1,269 391.9,266.5 389.6,259.5 387.3,252.6 383.8,246.7 379.5,240.5 375.8,236.8 372.7,230.5 369.6,224.3 365.4,218.1 362.3,212.9 361.2,206.6 363.3,201.4 366.4,196.2 367.5,190"/><polygon points="434.6,179 429.9,181.3 427,185.9 427.6,190.6 431.1,195.3 433.4,198.7 432.2,202.2 431.1,206.9 431.1,213.9 433.4,218.5 438,220.5 442.5,222.5 444.1,228.1 445.1,237.3 451.2,242.4 457.4,241.4 463.5,238.3 467.6,239.3 470.7,244.4 473.7,247 477.8,245.4 479.9,240.3 480.9,235.2 479.9,229.1 477,223.5 472.5,219 467,213 464.5,211.5 461.3,206.1 458,199.6 457,193.1 458,186.6 455.9,181.2 450.5,179.1 441.5,180.1"/><polygon points="466,160 466.7,165 469.9,171.5 474.2,181.2 478.6,187.7 481.8,193.1 485.1,199.6 488.3,206.1 491.5,212.6 495,217 498,224 502,231 508,235 511.5,239 513.5,246 515,252 519,256.5 523.5,260 526,265 527,269 527,275 577,275 576.6,268.4 574.2,264.7 570.7,258.9 568.4,253 566.1,248.4 561.4,244.9 557.9,239 555.4,235 554.4,228.7 551.2,223.5 545,219.5 543.5,215 542.8,208.2 541.8,202.8 537.4,199.6 533.1,197.4 529.9,193.1 528.2,186.6 526.6,180.1 521.2,175.8 514.7,171.5 513.6,165 513,160"/><polygon points="524,160 524.5,165 526.6,170.4 533.1,174.7 540.7,176.9 542.8,183.4 545,188.8 550.4,190.9 555.8,189.9 558,184.5 559.1,179.1 563.4,175.8 568,176 572,178 574,183 575,186.6 578.2,186.1 582.6,183.4 583.6,178 581.5,170.4 578,166 578,160"/><polygon points="559.6,193.3 563.7,189.2 567.9,188.6 571,191.2 573.1,195.4 578.3,196.4 581.4,193.5 586.9,192 592.3,194.2 595.5,199.6 594.5,206.1 591.2,210.4 588.5,214 592,215 597,213.5 603,213.5 608,215.5 610,218.8 608.9,225.8 605.4,230.5 606.6,235.1 611.2,239.8 613.5,244.4 612.4,250.2 608.9,253.7 601.9,254.9 596.1,253.7 589.1,252.6 585.5,249 584.7,242.5 581.2,235.5 576.2,235 573.1,230.7 570,226.6 568.9,221.4 567.9,215.1 564.8,210 559.6,205.8 558.5,199.6"/><polygon points="584,275 584.7,264.7 590,262 596,262 601.9,261.9 606.6,259.5 613.5,258 620,255 628,253 634,256 639,260.7 643.6,265.4 645.9,269 646,275"/><polygon points="599,160 599.9,165 603.1,171.5 604.2,178 602,184.5 599.9,189.9 601,195.3 604.2,201.8 607.4,208.2 609.6,212.6 612.4,215 614.7,220 615.9,227 619.4,233.9 625.2,239.8 632.2,245.6 638,247.5 643.6,243.3 645.9,238.6 650.6,238.6 654,243.3 655,247 658,251.5 662,252.5 666,251 669.2,244.4 670.3,238.6 673.8,235.1 677.3,230.5 678.5,224.6 679.6,217.7 680.8,213 681,207 676,207 670,206 665.5,201.8 664,195.3 661.8,187.7 657.5,181.2 652.1,173.6 647.8,165 647,160"/><polygon points="690,174.7 681.8,174.7 677,180.1 674.8,186.6 677,193.1 681.8,196.4 690,196.4"/><polygon points="690,245.6 682,245.6 676.2,246.7 672.7,251.4 673.8,256 678.5,258.4 690,258.4"/><polygon points="459.4,275 459.4,268.4 457.4,261.8 456.3,255.7 457.4,250.5 460.4,249 464.5,250 467.6,253.6 470.7,257.7 475.8,259.2 480.9,256.7 482.9,249.5 486,245.4 490.1,243.9 495.2,245.4 498.2,249.5 500.3,254.6 505.4,256.7 511,258 514.5,263 515.6,269 516,275"/></clipPath>
<filter id="f2" filterUnits="userSpaceOnUse" x="340" y="0" width="360" height="300" color-interpolation-filters="sRGB"><feComponentTransfer><feFuncR type="table" tableValues="0.078 0.086 0.118 0.176 0.275 0.373 0.412 0.373 0.333 0.353 0.431 0.588 0.765 0.882 0.961 0.961 0.961 0.961 0.961 0.949 0.941"/><feFuncG type="table" tableValues="0.000 0.039 0.196 0.431 0.667 0.882 0.980 0.980 0.973 0.961 0.961 0.973 0.980 0.973 0.922 0.765 0.588 0.451 0.314 0.196 0.137"/><feFuncB type="table" tableValues="0.980 0.980 0.988 1.000 1.000 0.980 0.902 0.588 0.275 0.098 0.078 0.137 0.196 0.196 0.176 0.176 0.176 0.157 0.137 0.110 0.098"/></feComponentTransfer></filter><filter id="f2B" filterUnits="userSpaceOnUse" x="340" y="0" width="360" height="300" color-interpolation-filters="sRGB"><feGaussianBlur stdDeviation="2.1"/></filter><filter id="f2S" filterUnits="userSpaceOnUse" x="340" y="0" width="360" height="300" color-interpolation-filters="sRGB"><feGaussianBlur stdDeviation="1.3"/></filter>
<g clip-path="url(#f2c)"><g filter="url(#f2)"><g filter="url(#f2B)">
<rect x="347.5" y="155.3" width="345.20000000000005" height="123.19999999999999" fill="#000"/>
<ellipse cx="362.0" cy="228.0" rx="5.0" ry="13.0" transform="rotate(-30.0 362.0 228.0)" fill="#292929"/>
<ellipse cx="668.0" cy="200.0" rx="4.0" ry="12.0" transform="rotate(-25.0 668.0 200.0)" fill="#383838"/>
<ellipse cx="463.0" cy="175.0" rx="6.0" ry="3.0" transform="rotate(0.0 463.0 175.0)" fill="#333333"/>
<ellipse cx="452.0" cy="215.0" rx="3.0" ry="12.0" transform="rotate(-30.0 452.0 215.0)" fill="#242424"/>
<ellipse cx="585.0" cy="180.0" rx="3.0" ry="10.0" transform="rotate(-30.0 585.0 180.0)" fill="#242424"/>
<ellipse cx="508.0" cy="245.0" rx="3.0" ry="10.0" transform="rotate(-35.0 508.0 245.0)" fill="#242424"/>
<g fill="none" stroke="#292929" stroke-width="9" stroke-linejoin="round"><polygon points="350,175 357,175.8 363.5,176.9 367.8,181.2 367.3,186.6 363.5,189.9 357,191 350,191"/><polygon points="350,236 357,236.3 362.8,238.6 366.3,245.6 365.1,252.6 360.5,257.2 357,258.4 350,258.4"/><polygon points="385,160 389.4,165 391.6,165 393.8,170.4 395,172 399.7,175.5 406.6,179 412.5,183.6 418.3,184.8 420,180.1 422.9,176.6 429.9,175.5 438,173.7 440.4,169.7 440.4,165 441,160"/><polygon points="371.1,187.7 373.2,183.9 378.6,182.8 385.1,184.5 388.4,189.9 391,193.5 394.8,193 398.5,188.3 404.3,188.3 410.1,191.8 417.1,195.3 420.6,199.9 424.1,205.7 425.3,211.5 427.6,217.4 428.7,221 429,226 427.5,231 428.5,238 433,242 437,246 438,252 436,258 436,264 437,269 438,275 390,275 393.1,269 391.9,266.5 389.6,259.5 387.3,252.6 383.8,246.7 379.5,240.5 375.8,236.8 372.7,230.5 369.6,224.3 365.4,218.1 362.3,212.9 361.2,206.6 363.3,201.4 366.4,196.2 367.5,190"/><polygon points="434.6,179 429.9,181.3 427,185.9 427.6,190.6 431.1,195.3 433.4,198.7 432.2,202.2 431.1,206.9 431.1,213.9 433.4,218.5 438,220.5 442.5,222.5 444.1,228.1 445.1,237.3 451.2,242.4 457.4,241.4 463.5,238.3 467.6,239.3 470.7,244.4 473.7,247 477.8,245.4 479.9,240.3 480.9,235.2 479.9,229.1 477,223.5 472.5,219 467,213 464.5,211.5 461.3,206.1 458,199.6 457,193.1 458,186.6 455.9,181.2 450.5,179.1 441.5,180.1"/><polygon points="466,160 466.7,165 469.9,171.5 474.2,181.2 478.6,187.7 481.8,193.1 485.1,199.6 488.3,206.1 491.5,212.6 495,217 498,224 502,231 508,235 511.5,239 513.5,246 515,252 519,256.5 523.5,260 526,265 527,269 527,275 577,275 576.6,268.4 574.2,264.7 570.7,258.9 568.4,253 566.1,248.4 561.4,244.9 557.9,239 555.4,235 554.4,228.7 551.2,223.5 545,219.5 543.5,215 542.8,208.2 541.8,202.8 537.4,199.6 533.1,197.4 529.9,193.1 528.2,186.6 526.6,180.1 521.2,175.8 514.7,171.5 513.6,165 513,160"/><polygon points="524,160 524.5,165 526.6,170.4 533.1,174.7 540.7,176.9 542.8,183.4 545,188.8 550.4,190.9 555.8,189.9 558,184.5 559.1,179.1 563.4,175.8 568,176 572,178 574,183 575,186.6 578.2,186.1 582.6,183.4 583.6,178 581.5,170.4 578,166 578,160"/><polygon points="559.6,193.3 563.7,189.2 567.9,188.6 571,191.2 573.1,195.4 578.3,196.4 581.4,193.5 586.9,192 592.3,194.2 595.5,199.6 594.5,206.1 591.2,210.4 588.5,214 592,215 597,213.5 603,213.5 608,215.5 610,218.8 608.9,225.8 605.4,230.5 606.6,235.1 611.2,239.8 613.5,244.4 612.4,250.2 608.9,253.7 601.9,254.9 596.1,253.7 589.1,252.6 585.5,249 584.7,242.5 581.2,235.5 576.2,235 573.1,230.7 570,226.6 568.9,221.4 567.9,215.1 564.8,210 559.6,205.8 558.5,199.6"/><polygon points="584,275 584.7,264.7 590,262 596,262 601.9,261.9 606.6,259.5 613.5,258 620,255 628,253 634,256 639,260.7 643.6,265.4 645.9,269 646,275"/><polygon points="599,160 599.9,165 603.1,171.5 604.2,178 602,184.5 599.9,189.9 601,195.3 604.2,201.8 607.4,208.2 609.6,212.6 612.4,215 614.7,220 615.9,227 619.4,233.9 625.2,239.8 632.2,245.6 638,247.5 643.6,243.3 645.9,238.6 650.6,238.6 654,243.3 655,247 658,251.5 662,252.5 666,251 669.2,244.4 670.3,238.6 673.8,235.1 677.3,230.5 678.5,224.6 679.6,217.7 680.8,213 681,207 676,207 670,206 665.5,201.8 664,195.3 661.8,187.7 657.5,181.2 652.1,173.6 647.8,165 647,160"/><polygon points="690,174.7 681.8,174.7 677,180.1 674.8,186.6 677,193.1 681.8,196.4 690,196.4"/><polygon points="690,245.6 682,245.6 676.2,246.7 672.7,251.4 673.8,256 678.5,258.4 690,258.4"/><polygon points="459.4,275 459.4,268.4 457.4,261.8 456.3,255.7 457.4,250.5 460.4,249 464.5,250 467.6,253.6 470.7,257.7 475.8,259.2 480.9,256.7 482.9,249.5 486,245.4 490.1,243.9 495.2,245.4 498.2,249.5 500.3,254.6 505.4,256.7 511,258 514.5,263 515.6,269 516,275"/></g>
<circle cx="367.8" cy="169.3" r="8.5" fill="#292929"/>
<circle cx="461.9" cy="253.0" r="7.5" fill="#292929"/>
<circle cx="671.5" cy="264.2" r="8.0" fill="#292929"/>
<g fill="#858585"><polygon points="350,175 357,175.8 363.5,176.9 367.8,181.2 367.3,186.6 363.5,189.9 357,191 350,191"/><polygon points="350,236 357,236.3 362.8,238.6 366.3,245.6 365.1,252.6 360.5,257.2 357,258.4 350,258.4"/><polygon points="385,160 389.4,165 391.6,165 393.8,170.4 395,172 399.7,175.5 406.6,179 412.5,183.6 418.3,184.8 420,180.1 422.9,176.6 429.9,175.5 438,173.7 440.4,169.7 440.4,165 441,160"/><polygon points="371.1,187.7 373.2,183.9 378.6,182.8 385.1,184.5 388.4,189.9 391,193.5 394.8,193 398.5,188.3 404.3,188.3 410.1,191.8 417.1,195.3 420.6,199.9 424.1,205.7 425.3,211.5 427.6,217.4 428.7,221 429,226 427.5,231 428.5,238 433,242 437,246 438,252 436,258 436,264 437,269 438,275 390,275 393.1,269 391.9,266.5 389.6,259.5 387.3,252.6 383.8,246.7 379.5,240.5 375.8,236.8 372.7,230.5 369.6,224.3 365.4,218.1 362.3,212.9 361.2,206.6 363.3,201.4 366.4,196.2 367.5,190"/><polygon points="434.6,179 429.9,181.3 427,185.9 427.6,190.6 431.1,195.3 433.4,198.7 432.2,202.2 431.1,206.9 431.1,213.9 433.4,218.5 438,220.5 442.5,222.5 444.1,228.1 445.1,237.3 451.2,242.4 457.4,241.4 463.5,238.3 467.6,239.3 470.7,244.4 473.7,247 477.8,245.4 479.9,240.3 480.9,235.2 479.9,229.1 477,223.5 472.5,219 467,213 464.5,211.5 461.3,206.1 458,199.6 457,193.1 458,186.6 455.9,181.2 450.5,179.1 441.5,180.1"/><polygon points="466,160 466.7,165 469.9,171.5 474.2,181.2 478.6,187.7 481.8,193.1 485.1,199.6 488.3,206.1 491.5,212.6 495,217 498,224 502,231 508,235 511.5,239 513.5,246 515,252 519,256.5 523.5,260 526,265 527,269 527,275 577,275 576.6,268.4 574.2,264.7 570.7,258.9 568.4,253 566.1,248.4 561.4,244.9 557.9,239 555.4,235 554.4,228.7 551.2,223.5 545,219.5 543.5,215 542.8,208.2 541.8,202.8 537.4,199.6 533.1,197.4 529.9,193.1 528.2,186.6 526.6,180.1 521.2,175.8 514.7,171.5 513.6,165 513,160"/><polygon points="524,160 524.5,165 526.6,170.4 533.1,174.7 540.7,176.9 542.8,183.4 545,188.8 550.4,190.9 555.8,189.9 558,184.5 559.1,179.1 563.4,175.8 568,176 572,178 574,183 575,186.6 578.2,186.1 582.6,183.4 583.6,178 581.5,170.4 578,166 578,160"/><polygon points="559.6,193.3 563.7,189.2 567.9,188.6 571,191.2 573.1,195.4 578.3,196.4 581.4,193.5 586.9,192 592.3,194.2 595.5,199.6 594.5,206.1 591.2,210.4 588.5,214 592,215 597,213.5 603,213.5 608,215.5 610,218.8 608.9,225.8 605.4,230.5 606.6,235.1 611.2,239.8 613.5,244.4 612.4,250.2 608.9,253.7 601.9,254.9 596.1,253.7 589.1,252.6 585.5,249 584.7,242.5 581.2,235.5 576.2,235 573.1,230.7 570,226.6 568.9,221.4 567.9,215.1 564.8,210 559.6,205.8 558.5,199.6"/><polygon points="584,275 584.7,264.7 590,262 596,262 601.9,261.9 606.6,259.5 613.5,258 620,255 628,253 634,256 639,260.7 643.6,265.4 645.9,269 646,275"/><polygon points="599,160 599.9,165 603.1,171.5 604.2,178 602,184.5 599.9,189.9 601,195.3 604.2,201.8 607.4,208.2 609.6,212.6 612.4,215 614.7,220 615.9,227 619.4,233.9 625.2,239.8 632.2,245.6 638,247.5 643.6,243.3 645.9,238.6 650.6,238.6 654,243.3 655,247 658,251.5 662,252.5 666,251 669.2,244.4 670.3,238.6 673.8,235.1 677.3,230.5 678.5,224.6 679.6,217.7 680.8,213 681,207 676,207 670,206 665.5,201.8 664,195.3 661.8,187.7 657.5,181.2 652.1,173.6 647.8,165 647,160"/><polygon points="690,174.7 681.8,174.7 677,180.1 674.8,186.6 677,193.1 681.8,196.4 690,196.4"/><polygon points="690,245.6 682,245.6 676.2,246.7 672.7,251.4 673.8,256 678.5,258.4 690,258.4"/><polygon points="459.4,275 459.4,268.4 457.4,261.8 456.3,255.7 457.4,250.5 460.4,249 464.5,250 467.6,253.6 470.7,257.7 475.8,259.2 480.9,256.7 482.9,249.5 486,245.4 490.1,243.9 495.2,245.4 498.2,249.5 500.3,254.6 505.4,256.7 511,258 514.5,263 515.6,269 516,275"/></g>
<circle cx="367.8" cy="169.3" r="5.2" fill="#606060"/>
<circle cx="461.9" cy="253.0" r="4.2" fill="#606060"/>
<circle cx="671.5" cy="264.2" r="4.7" fill="#606060"/>
<g fill="#a8a8a8" clip-path="url(#f2p)"><circle cx="379.3" cy="202.0" r="6.5"/><circle cx="372.2" cy="206.6" r="7"/><circle cx="386.5" cy="205.2" r="7"/><circle cx="393.2" cy="208.2" r="6.5"/><circle cx="400.0" cy="203.4" r="7"/><circle cx="413.8" cy="202.0" r="7"/><circle cx="378.9" cy="217.6" r="7.5"/><circle cx="394.2" cy="215.7" r="7"/><circle cx="408.5" cy="214.0" r="7.5"/><circle cx="394.3" cy="223.4" r="6.5"/><circle cx="387.6" cy="228.1" r="7"/><circle cx="401.6" cy="227.0" r="7"/><circle cx="408.2" cy="230.5" r="6.5"/><circle cx="415.2" cy="225.2" r="7"/><circle cx="394.2" cy="238.2" r="7.5"/><circle cx="409.4" cy="237.4" r="7"/><circle cx="423.9" cy="235.1" r="7.5"/><circle cx="410.0" cy="245.0" r="6.5"/><circle cx="402.4" cy="249.6" r="7"/><circle cx="416.9" cy="247.9" r="7"/><circle cx="423.3" cy="252.0" r="6.5"/><circle cx="410.0" cy="260.1" r="7.5"/><circle cx="424.5" cy="259.0" r="7"/><circle cx="424.5" cy="266.5" r="6.5"/><circle cx="417.5" cy="267.7" r="7"/><circle cx="429.3" cy="247.9" r="7"/><circle cx="427.5" cy="258.4" r="7"/><circle cx="431.7" cy="267.7" r="7"/><circle cx="404.6" cy="169.5" r="7"/><circle cx="416.8" cy="168.9" r="7"/><circle cx="424.0" cy="166.1" r="6.5"/><circle cx="360.8" cy="182.3" r="7"/><circle cx="446.2" cy="196.4" r="7"/><circle cx="446.8" cy="204.6" r="6.5"/><circle cx="454.0" cy="208.0" r="7"/><circle cx="461.0" cy="218.5" r="7"/><circle cx="468.5" cy="229.7" r="7"/><circle cx="488.3" cy="173.6" r="7.5"/><circle cx="475.3" cy="169.3" r="7"/><circle cx="502.4" cy="172.6" r="7"/><circle cx="503.4" cy="180.1" r="6.5"/><circle cx="496.9" cy="184.5" r="7"/><circle cx="502.4" cy="194.2" r="7.5"/><circle cx="491.5" cy="195.3" r="7"/><circle cx="499.1" cy="207.2" r="7"/><circle cx="506.1" cy="171.5" r="7"/><circle cx="511.5" cy="183.4" r="7"/><circle cx="518.5" cy="193.6" r="7"/><circle cx="518.5" cy="201.8" r="6.5"/><circle cx="512.6" cy="206.1" r="7"/><circle cx="526.1" cy="205.0" r="7"/><circle cx="520.0" cy="216.5" r="7.5"/><circle cx="533.4" cy="215.5" r="7"/><circle cx="506.3" cy="218.2" r="7"/><circle cx="513.7" cy="229.5" r="7"/><circle cx="527.6" cy="227.7" r="7"/><circle cx="521.2" cy="232.4" r="6.5"/><circle cx="533.6" cy="224.1" r="6.5"/><circle cx="540.8" cy="226.9" r="7"/><circle cx="535.0" cy="238.2" r="7.5"/><circle cx="521.3" cy="240.5" r="7"/><circle cx="548.3" cy="237.6" r="7"/><circle cx="529.2" cy="250.5" r="7"/><circle cx="536.2" cy="253.6" r="6.5"/><circle cx="543.2" cy="249.5" r="7"/><circle cx="550.4" cy="259.8" r="7.5"/><circle cx="536.8" cy="261.8" r="7"/><circle cx="538.0" cy="268.2" r="6.5"/><circle cx="542.8" cy="169.3" r="7"/><circle cx="549.9" cy="172.6" r="6.5"/><circle cx="558.0" cy="168.8" r="7"/><circle cx="528.8" cy="169.3" r="7"/><circle cx="536.4" cy="166.6" r="6.5"/><circle cx="578.2" cy="180.1" r="7"/><circle cx="571.5" cy="204.2" r="7"/><circle cx="578.8" cy="215.1" r="7"/><circle cx="586.0" cy="226.2" r="7"/><circle cx="593.3" cy="229.5" r="6.5"/><circle cx="593.2" cy="237.4" r="7"/><circle cx="607.4" cy="166.6" r="7"/><circle cx="615.4" cy="167.2" r="6.5"/><circle cx="615.2" cy="175.3" r="7"/><circle cx="629.5" cy="173.4" r="7.5"/><circle cx="642.4" cy="171.5" r="7"/><circle cx="616.6" cy="182.3" r="6.5"/><circle cx="623.0" cy="185.5" r="7"/><circle cx="609.6" cy="186.6" r="7"/><circle cx="637.1" cy="184.2" r="7"/><circle cx="630.3" cy="188.5" r="6.5"/><circle cx="615.7" cy="198.5" r="7.5"/><circle cx="630.6" cy="196.9" r="7"/><circle cx="644.9" cy="194.5" r="7.5"/><circle cx="631.6" cy="203.9" r="6.5"/><circle cx="625.2" cy="208.8" r="7"/><circle cx="638.7" cy="207.7" r="7"/><circle cx="652.1" cy="206.1" r="7"/><circle cx="645.2" cy="210.7" r="6.5"/><circle cx="659.9" cy="216.5" r="7.5"/><circle cx="646.0" cy="217.5" r="7"/><circle cx="630.8" cy="219.4" r="7.5"/><circle cx="646.5" cy="225.8" r="6.5"/><circle cx="639.5" cy="230.5" r="7"/><circle cx="654.0" cy="229.3" r="7"/><circle cx="667.4" cy="227.5" r="7"/><circle cx="660.4" cy="232.2" r="6.5"/><circle cx="626.1" cy="230.5" r="7"/><circle cx="622.5" cy="265.0" r="7"/><circle cx="615.9" cy="268.3" r="6.5"/><circle cx="489.6" cy="261.8" r="6.5"/><circle cx="481.9" cy="264.9" r="7"/><circle cx="496.7" cy="263.8" r="7"/><circle cx="503.4" cy="266.9" r="6.5"/><circle cx="511.2" cy="263.5" r="7"/><circle cx="678.5" cy="251.4" r="7"/><circle cx="679.0" cy="185.0" r="7"/></g>
<circle cx="378.5" cy="191.5" r="7.6" fill="#cccccc"/>
<circle cx="378.9" cy="217.6" r="5.1" fill="#000000"/>
<circle cx="408.5" cy="214.0" r="5.1" fill="#000000"/>
<circle cx="394.2" cy="238.2" r="5.1" fill="#000000"/>
<circle cx="423.9" cy="235.1" r="5.1" fill="#000000"/>
<circle cx="410.0" cy="260.1" r="5.1" fill="#000000"/>
<circle cx="433.2" cy="168.3" r="7.6" fill="#cccccc"/>
<circle cx="435.1" cy="186.0" r="7.6" fill="#cccccc"/>
<circle cx="438.3" cy="210.2" r="7.6" fill="#cccccc"/>
<circle cx="452.7" cy="232.7" r="7.6" fill="#cccccc"/>
<circle cx="488.3" cy="173.6" r="5.1" fill="#000000"/>
<circle cx="502.4" cy="194.2" r="5.1" fill="#000000"/>
<circle cx="520.0" cy="216.5" r="5.1" fill="#000000"/>
<circle cx="535.0" cy="238.2" r="5.1" fill="#000000"/>
<circle cx="550.4" cy="259.8" r="5.1" fill="#000000"/>
<circle cx="550.4" cy="183.0" r="7.6" fill="#cccccc"/>
<circle cx="587.0" cy="201.2" r="7.6" fill="#cccccc"/>
<circle cx="601.9" cy="223.5" r="7.6" fill="#cccccc"/>
<circle cx="604.8" cy="247.3" r="7.6" fill="#cccccc"/>
<circle cx="629.5" cy="173.4" r="5.1" fill="#000000"/>
<circle cx="615.7" cy="198.5" r="5.1" fill="#000000"/>
<circle cx="644.9" cy="194.5" r="5.1" fill="#000000"/>
<circle cx="659.9" cy="216.5" r="5.1" fill="#000000"/>
<circle cx="630.8" cy="219.4" r="5.1" fill="#000000"/>
<circle cx="661.6" cy="243.3" r="7.6" fill="#cccccc"/>
<circle cx="607.7" cy="264.8" r="7.6" fill="#cccccc"/>
<circle cx="489.7" cy="250.8" r="7.6" fill="#cccccc"/>
</g>
<g filter="url(#f2S)">
<circle cx="367.8" cy="169.3" r="2.4" fill="#808080"/>
<circle cx="461.9" cy="253.0" r="1.7999999999999998" fill="#808080"/>
<circle cx="671.5" cy="264.2" r="2.1" fill="#808080"/>
<circle cx="378.5" cy="191.5" r="5.8" fill="#ffffff"/>
<circle cx="379.3" cy="202.0" r="2.5" fill="#000000"/>
<circle cx="372.2" cy="206.6" r="3.6" fill="#dbdbdb"/>
<circle cx="386.5" cy="205.2" r="3.8" fill="#f2f2f2"/>
<circle cx="393.2" cy="208.2" r="2.5" fill="#000000"/>
<circle cx="400.0" cy="203.4" r="3.6" fill="#dbdbdb"/>
<circle cx="413.8" cy="202.0" r="3.0" fill="#c2c2c2"/>
<circle cx="378.9" cy="217.6" r="2.6" fill="#000000"/>
<circle cx="394.2" cy="215.7" r="3.8" fill="#f2f2f2"/>
<circle cx="408.5" cy="214.0" r="2.6" fill="#000000"/>
<circle cx="394.3" cy="223.4" r="2.5" fill="#000000"/>
<circle cx="387.6" cy="228.1" r="3.6" fill="#dbdbdb"/>
<circle cx="401.6" cy="227.0" r="3.8" fill="#f2f2f2"/>
<circle cx="408.2" cy="230.5" r="2.5" fill="#000000"/>
<circle cx="415.2" cy="225.2" r="3.0" fill="#c2c2c2"/>
<circle cx="394.2" cy="238.2" r="2.6" fill="#000000"/>
<circle cx="409.4" cy="237.4" r="3.8" fill="#f2f2f2"/>
<circle cx="423.9" cy="235.1" r="2.6" fill="#000000"/>
<circle cx="410.0" cy="245.0" r="2.5" fill="#000000"/>
<circle cx="402.4" cy="249.6" r="3.6" fill="#dbdbdb"/>
<circle cx="416.9" cy="247.9" r="3.8" fill="#f2f2f2"/>
<circle cx="423.3" cy="252.0" r="2.0" fill="#262626"/>
<circle cx="410.0" cy="260.1" r="2.6" fill="#000000"/>
<circle cx="424.5" cy="259.0" r="3.6" fill="#dbdbdb"/>
<circle cx="424.5" cy="266.5" r="2.5" fill="#000000"/>
<circle cx="417.5" cy="267.7" r="3.6" fill="#dbdbdb"/>
<circle cx="429.3" cy="247.9" r="3.0" fill="#c2c2c2"/>
<circle cx="427.5" cy="258.4" r="3.6" fill="#dbdbdb"/>
<circle cx="431.7" cy="267.7" r="3.6" fill="#dbdbdb"/>
<circle cx="404.6" cy="169.5" r="3.0" fill="#c2c2c2"/>
<circle cx="416.8" cy="168.9" r="3.6" fill="#dbdbdb"/>
<circle cx="424.0" cy="166.1" r="2.0" fill="#262626"/>
<circle cx="433.2" cy="168.3" r="5.8" fill="#ffffff"/>
<circle cx="360.8" cy="182.3" r="3.6" fill="#dbdbdb"/>
<circle cx="435.1" cy="186.0" r="5.8" fill="#ffffff"/>
<circle cx="446.2" cy="196.4" r="3.6" fill="#dbdbdb"/>
<circle cx="446.8" cy="204.6" r="2.0" fill="#262626"/>
<circle cx="438.3" cy="210.2" r="5.8" fill="#ffffff"/>
<circle cx="454.0" cy="208.0" r="3.6" fill="#dbdbdb"/>
<circle cx="461.0" cy="218.5" r="3.6" fill="#dbdbdb"/>
<circle cx="452.7" cy="232.7" r="5.8" fill="#ffffff"/>
<circle cx="468.5" cy="229.7" r="3.6" fill="#dbdbdb"/>
<circle cx="488.3" cy="173.6" r="2.6" fill="#000000"/>
<circle cx="475.3" cy="169.3" r="3.0" fill="#c2c2c2"/>
<circle cx="502.4" cy="172.6" r="3.8" fill="#f2f2f2"/>
<circle cx="503.4" cy="180.1" r="2.5" fill="#000000"/>
<circle cx="496.9" cy="184.5" r="3.6" fill="#dbdbdb"/>
<circle cx="502.4" cy="194.2" r="2.6" fill="#000000"/>
<circle cx="491.5" cy="195.3" r="3.0" fill="#c2c2c2"/>
<circle cx="499.1" cy="207.2" r="3.6" fill="#dbdbdb"/>
<circle cx="506.1" cy="171.5" r="3.6" fill="#dbdbdb"/>
<circle cx="511.5" cy="183.4" r="3.8" fill="#f2f2f2"/>
<circle cx="518.5" cy="193.6" r="3.6" fill="#dbdbdb"/>
<circle cx="518.5" cy="201.8" r="2.0" fill="#262626"/>
<circle cx="512.6" cy="206.1" r="3.8" fill="#f2f2f2"/>
<circle cx="526.1" cy="205.0" r="3.6" fill="#dbdbdb"/>
<circle cx="520.0" cy="216.5" r="2.6" fill="#000000"/>
<circle cx="533.4" cy="215.5" r="3.6" fill="#dbdbdb"/>
<circle cx="506.3" cy="218.2" r="3.6" fill="#dbdbdb"/>
<circle cx="513.7" cy="229.5" r="3.6" fill="#dbdbdb"/>
<circle cx="527.6" cy="227.7" r="3.8" fill="#f2f2f2"/>
<circle cx="521.2" cy="232.4" r="2.0" fill="#262626"/>
<circle cx="533.6" cy="224.1" r="2.0" fill="#262626"/>
<circle cx="540.8" cy="226.9" r="3.6" fill="#dbdbdb"/>
<circle cx="535.0" cy="238.2" r="2.6" fill="#000000"/>
<circle cx="521.3" cy="240.5" r="3.8" fill="#f2f2f2"/>
<circle cx="548.3" cy="237.6" r="3.0" fill="#c2c2c2"/>
<circle cx="529.2" cy="250.5" r="3.8" fill="#f2f2f2"/>
<circle cx="536.2" cy="253.6" r="2.5" fill="#000000"/>
<circle cx="543.2" cy="249.5" r="3.8" fill="#f2f2f2"/>
<circle cx="550.4" cy="259.8" r="2.6" fill="#000000"/>
<circle cx="536.8" cy="261.8" r="3.8" fill="#f2f2f2"/>
<circle cx="538.0" cy="268.2" r="2.0" fill="#262626"/>
<circle cx="542.8" cy="169.3" r="3.6" fill="#dbdbdb"/>
<circle cx="549.9" cy="172.6" r="2.5" fill="#000000"/>
<circle cx="558.0" cy="168.8" r="3.6" fill="#dbdbdb"/>
<circle cx="528.8" cy="169.3" r="3.0" fill="#c2c2c2"/>
<circle cx="536.4" cy="166.6" r="2.0" fill="#262626"/>
<circle cx="550.4" cy="183.0" r="5.8" fill="#ffffff"/>
<circle cx="578.2" cy="180.1" r="3.0" fill="#c2c2c2"/>
<circle cx="571.5" cy="204.2" r="3.6" fill="#dbdbdb"/>
<circle cx="587.0" cy="201.2" r="5.8" fill="#ffffff"/>
<circle cx="578.8" cy="215.1" r="3.6" fill="#dbdbdb"/>
<circle cx="586.0" cy="226.2" r="3.6" fill="#dbdbdb"/>
<circle cx="593.3" cy="229.5" r="2.0" fill="#262626"/>
<circle cx="593.2" cy="237.4" r="3.6" fill="#dbdbdb"/>
<circle cx="601.9" cy="223.5" r="5.8" fill="#ffffff"/>
<circle cx="604.8" cy="247.3" r="5.8" fill="#ffffff"/>
<circle cx="607.4" cy="166.6" r="3.6" fill="#dbdbdb"/>
<circle cx="615.4" cy="167.2" r="2.5" fill="#000000"/>
<circle cx="615.2" cy="175.3" r="3.6" fill="#dbdbdb"/>
<circle cx="629.5" cy="173.4" r="2.6" fill="#000000"/>
<circle cx="642.4" cy="171.5" r="3.0" fill="#c2c2c2"/>
<circle cx="616.6" cy="182.3" r="2.0" fill="#262626"/>
<circle cx="623.0" cy="185.5" r="3.8" fill="#f2f2f2"/>
<circle cx="609.6" cy="186.6" r="3.0" fill="#c2c2c2"/>
<circle cx="637.1" cy="184.2" r="3.6" fill="#dbdbdb"/>
<circle cx="630.3" cy="188.5" r="2.5" fill="#000000"/>
<circle cx="615.7" cy="198.5" r="2.6" fill="#000000"/>
<circle cx="630.6" cy="196.9" r="3.8" fill="#f2f2f2"/>
<circle cx="644.9" cy="194.5" r="2.6" fill="#000000"/>
<circle cx="631.6" cy="203.9" r="2.0" fill="#262626"/>
<circle cx="625.2" cy="208.8" r="3.6" fill="#dbdbdb"/>
<circle cx="638.7" cy="207.7" r="3.8" fill="#f2f2f2"/>
<circle cx="652.1" cy="206.1" r="3.6" fill="#dbdbdb"/>
<circle cx="645.2" cy="210.7" r="2.5" fill="#000000"/>
<circle cx="659.9" cy="216.5" r="2.6" fill="#000000"/>
<circle cx="646.0" cy="217.5" r="3.8" fill="#f2f2f2"/>
<circle cx="630.8" cy="219.4" r="2.6" fill="#000000"/>
<circle cx="646.5" cy="225.8" r="2.5" fill="#000000"/>
<circle cx="639.5" cy="230.5" r="3.6" fill="#dbdbdb"/>
<circle cx="654.0" cy="229.3" r="3.8" fill="#f2f2f2"/>
<circle cx="667.4" cy="227.5" r="3.6" fill="#dbdbdb"/>
<circle cx="660.4" cy="232.2" r="2.5" fill="#000000"/>
<circle cx="661.6" cy="243.3" r="5.8" fill="#ffffff"/>
<circle cx="626.1" cy="230.5" r="3.0" fill="#c2c2c2"/>
<circle cx="607.7" cy="264.8" r="5.8" fill="#ffffff"/>
<circle cx="622.5" cy="265.0" r="3.6" fill="#dbdbdb"/>
<circle cx="615.9" cy="268.3" r="2.5" fill="#000000"/>
<circle cx="489.7" cy="250.8" r="5.8" fill="#ffffff"/>
<circle cx="489.6" cy="261.8" r="2.5" fill="#000000"/>
<circle cx="481.9" cy="264.9" r="3.6" fill="#dbdbdb"/>
<circle cx="496.7" cy="263.8" r="3.8" fill="#f2f2f2"/>
<circle cx="503.4" cy="266.9" r="2.5" fill="#000000"/>
<circle cx="511.2" cy="263.5" r="3.0" fill="#c2c2c2"/>
<circle cx="678.5" cy="251.4" r="3.6" fill="#dbdbdb"/>
<circle cx="679.0" cy="185.0" r="3.0" fill="#c2c2c2"/>
</g></g></g>
<rect x="357.5" y="165.3" width="325.20000000000005" height="103.19999999999999" fill="none" stroke="#9a9a9a" stroke-width="0.7"/>
<path d="M349 230.2H332" stroke="#3535e8" stroke-width="1.9"/><path d="M324.8 230.2L333.5 226.6V233.8Z" fill="#2a2ae8"/>
<path d="M349 230.2V248" stroke="#e23a3a" stroke-width="1.9"/><path d="M349 255.8L345.9 247.2H352.1Z" fill="#e81e1e"/>
<circle cx="349" cy="230.2" r="2.9" fill="#2d8a2d"/>
<text x="315.5" y="233.8" font-size="13" fill="#222">c</text>
<text x="345.6" y="266" font-size="13" fill="#222">a</text>
<text x="0.3" y="278.3" font-size="17.3" fill="#222">(c)</text>
<clipPath id="bc0"><rect x="53.3" y="300.7" width="184.7" height="150.3"/></clipPath>
<path d="M53.3 304.4 L55.9 304.3 L58.6 304.1 L61.2 304.0 L63.9 303.9 L66.5 303.7 L69.1 303.6 L71.8 303.5 L74.4 303.4 L77.0 303.3 L79.7 303.3 L82.3 303.3 L85.0 303.3 L87.6 303.3 L90.2 303.3 L92.9 303.3 L95.5 303.3 L98.2 303.3 L100.8 303.3 L103.4 303.3 L106.1 303.3 L108.7 303.4 L111.3 303.5 L114.0 303.8 L116.6 304.1 L119.3 304.4 L121.9 304.7 L124.5 305.0 L127.2 305.3 L129.8 305.4 L132.5 305.5 L135.1 305.5 L137.7 305.5 L140.4 305.4 L143.0 305.4 L145.6 305.4 L148.3 305.3 L150.9 305.3 L153.6 305.2 L156.2 305.2 L158.8 305.2 L161.5 305.2 L164.1 305.3 L166.8 305.4 L169.4 305.5 L172.0 305.6 L174.7 305.7 L177.3 305.8 L180.0 305.9 L182.6 306.0 L185.2 306.0 L187.9 305.9 L190.5 305.7 L193.1 305.5 L195.8 305.1 L198.4 304.8 L201.1 304.4 L203.7 304.0 L206.3 303.8 L209.0 303.6 L211.6 303.5 L214.3 303.5 L216.9 303.5 L219.5 303.5 L222.2 303.5 L224.8 303.5 L227.4 303.5 L230.1 303.5 L232.7 303.5 L235.4 303.5 L238.0 303.5M53.3 309.6 L55.9 309.5 L58.6 309.4 L61.2 309.3 L63.9 309.3 L66.5 309.2 L69.1 309.1 L71.8 309.0 L74.4 309.0 L77.0 308.9 L79.7 308.9 L82.3 308.9 L85.0 308.9 L87.6 308.9 L90.2 308.9 L92.9 308.9 L95.5 308.9 L98.2 308.9 L100.8 308.9 L103.4 308.9 L106.1 308.9 L108.7 308.9 L111.3 309.0 L114.0 309.1 L116.6 309.3 L119.3 309.4 L121.9 309.6 L124.5 309.8 L127.2 309.9 L129.8 310.0 L132.5 310.0 L135.1 310.0 L137.7 309.9 L140.4 309.7 L143.0 309.6 L145.6 309.4 L148.3 309.2 L150.9 309.0 L153.6 308.8 L156.2 308.6 L158.8 308.5 L161.5 308.4 L164.1 308.3 L166.8 308.2 L169.4 308.1 L172.0 308.0 L174.7 308.0 L177.3 307.9 L180.0 307.8 L182.6 307.7 L185.2 307.6 L187.9 307.5 L190.5 307.3 L193.1 307.2 L195.8 307.0 L198.4 306.8 L201.1 306.7 L203.7 306.5 L206.3 306.4 L209.0 306.3 L211.6 306.3 L214.3 306.3 L216.9 306.4 L219.5 306.6 L222.2 306.7 L224.8 306.9 L227.4 307.2 L230.1 307.4 L232.7 307.6 L235.4 307.8 L238.0 308.0M53.3 312.5 L55.9 312.3 L58.6 312.1 L61.2 311.8 L63.9 311.6 L66.5 311.4 L69.1 311.2 L71.8 311.0 L74.4 310.8 L77.0 310.7 L79.7 310.7 L82.3 310.7 L85.0 310.7 L87.6 310.7 L90.2 310.7 L92.9 310.7 L95.5 310.7 L98.2 310.7 L100.8 310.7 L103.4 310.7 L106.1 310.7 L108.7 310.8 L111.3 311.0 L114.0 311.3 L116.6 311.7 L119.3 312.1 L121.9 312.5 L124.5 312.9 L127.2 313.2 L129.8 313.4 L132.5 313.5 L135.1 313.5 L137.7 313.5 L140.4 313.4 L143.0 313.4 L145.6 313.3 L148.3 313.2 L150.9 313.2 L153.6 313.1 L156.2 313.1 L158.8 313.1 L161.5 313.1 L164.1 313.1 L166.8 313.2 L169.4 313.2 L172.0 313.3 L174.7 313.4 L177.3 313.4 L180.0 313.5 L182.6 313.5 L185.2 313.5 L187.9 313.4 L190.5 313.2 L193.1 312.8 L195.8 312.4 L198.4 311.9 L201.1 311.4 L203.7 311.0 L206.3 310.6 L209.0 310.3 L211.6 310.1 L214.3 310.0 L216.9 310.0 L219.5 309.9 L222.2 309.8 L224.8 309.8 L227.4 309.8 L230.1 309.7 L232.7 309.7 L235.4 309.6 L238.0 309.6M53.3 313.5 L55.9 313.3 L58.6 313.1 L61.2 312.8 L63.9 312.6 L66.5 312.4 L69.1 312.2 L71.8 312.0 L74.4 311.8 L77.0 311.7 L79.7 311.7 L82.3 311.7 L85.0 311.7 L87.6 311.7 L90.2 311.7 L92.9 311.7 L95.5 311.7 L98.2 311.7 L100.8 311.7 L103.4 311.7 L106.1 311.7 L108.7 311.8 L111.3 312.0 L114.0 312.4 L116.6 312.8 L119.3 313.3 L121.9 313.8 L124.5 314.2 L127.2 314.6 L129.8 314.8 L132.5 314.9 L135.1 314.9 L137.7 314.9 L140.4 314.9 L143.0 314.9 L145.6 314.9 L148.3 314.8 L150.9 314.8 L153.6 314.8 L156.2 314.8 L158.8 314.8 L161.5 314.8 L164.1 314.8 L166.8 314.9 L169.4 314.9 L172.0 315.0 L174.7 315.0 L177.3 315.0 L180.0 315.1 L182.6 315.1 L185.2 315.1 L187.9 315.0 L190.5 314.9 L193.1 314.6 L195.8 314.3 L198.4 313.9 L201.1 313.5 L203.7 313.2 L206.3 312.8 L209.0 312.5 L211.6 312.3 L214.3 312.1 L216.9 312.0 L219.5 311.8 L222.2 311.7 L224.8 311.6 L227.4 311.5 L230.1 311.4 L232.7 311.2 L235.4 311.1 L238.0 311.0M53.3 314.5 L55.9 314.3 L58.6 314.0 L61.2 313.8 L63.9 313.5 L66.5 313.2 L69.1 313.0 L71.8 312.8 L74.4 312.6 L77.0 312.5 L79.7 312.5 L82.3 312.5 L85.0 312.5 L87.6 312.5 L90.2 312.5 L92.9 312.5 L95.5 312.5 L98.2 312.5 L100.8 312.5 L103.4 312.5 L106.1 312.5 L108.7 312.6 L111.3 312.8 L114.0 313.2 L116.6 313.6 L119.3 314.1 L121.9 314.5 L124.5 314.9 L127.2 315.3 L129.8 315.5 L132.5 315.6 L135.1 315.6 L137.7 315.6 L140.4 315.6 L143.0 315.6 L145.6 315.6 L148.3 315.6 L150.9 315.6 L153.6 315.6 L156.2 315.6 L158.8 315.6 L161.5 315.6 L164.1 315.7 L166.8 315.9 L169.4 316.0 L172.0 316.2 L174.7 316.4 L177.3 316.5 L180.0 316.7 L182.6 316.8 L185.2 316.8 L187.9 316.7 L190.5 316.5 L193.1 316.2 L195.8 315.8 L198.4 315.3 L201.1 314.9 L203.7 314.4 L206.3 314.0 L209.0 313.7 L211.6 313.5 L214.3 313.4 L216.9 313.3 L219.5 313.2 L222.2 313.1 L224.8 313.0 L227.4 312.9 L230.1 312.8 L232.7 312.8 L235.4 312.7 L238.0 312.6M53.3 317.3 L55.9 317.2 L58.6 317.1 L61.2 317.0 L63.9 317.0 L66.5 316.9 L69.1 316.8 L71.8 316.7 L74.4 316.7 L77.0 316.6 L79.7 316.6 L82.3 316.6 L85.0 316.6 L87.6 316.6 L90.2 316.6 L92.9 316.6 L95.5 316.6 L98.2 316.6 L100.8 316.6 L103.4 316.6 L106.1 316.6 L108.7 316.6 L111.3 316.7 L114.0 316.9 L116.6 317.1 L119.3 317.4 L121.9 317.6 L124.5 317.8 L127.2 318.1 L129.8 318.3 L132.5 318.4 L135.1 318.5 L137.7 318.6 L140.4 318.7 L143.0 318.8 L145.6 318.9 L148.3 319.0 L150.9 319.1 L153.6 319.1 L156.2 319.2 L158.8 319.3 L161.5 319.4 L164.1 319.5 L166.8 319.6 L169.4 319.7 L172.0 319.8 L174.7 319.9 L177.3 320.0 L180.0 320.0 L182.6 320.1 L185.2 320.1 L187.9 320.0 L190.5 319.8 L193.1 319.4 L195.8 319.0 L198.4 318.6 L201.1 318.1 L203.7 317.6 L206.3 317.3 L209.0 317.0 L211.6 316.8 L214.3 316.7 L216.9 316.7 L219.5 316.6 L222.2 316.5 L224.8 316.5 L227.4 316.5 L230.1 316.4 L232.7 316.4 L235.4 316.3 L238.0 316.3M53.3 322.2 L55.9 321.9 L58.6 321.6 L61.2 321.3 L63.9 321.0 L66.5 320.7 L69.1 320.4 L71.8 320.2 L74.4 320.0 L77.0 319.8 L79.7 319.8 L82.3 319.8 L85.0 319.8 L87.6 319.8 L90.2 319.8 L92.9 319.8 L95.5 319.8 L98.2 319.8 L100.8 319.8 L103.4 319.8 L106.1 319.8 L108.7 319.9 L111.3 320.2 L114.0 320.6 L116.6 321.0 L119.3 321.6 L121.9 322.1 L124.5 322.5 L127.2 322.9 L129.8 323.2 L132.5 323.3 L135.1 323.3 L137.7 323.3 L140.4 323.2 L143.0 323.1 L145.6 323.0 L148.3 323.0 L150.9 322.9 L153.6 322.8 L156.2 322.7 L158.8 322.6 L161.5 322.5 L164.1 322.5 L166.8 322.4 L169.4 322.3 L172.0 322.3 L174.7 322.2 L177.3 322.1 L180.0 322.0 L182.6 321.9 L185.2 321.8 L187.9 321.6 L190.5 321.4 L193.1 321.2 L195.8 320.9 L198.4 320.5 L201.1 320.2 L203.7 319.9 L206.3 319.7 L209.0 319.5 L211.6 319.3 L214.3 319.2 L216.9 319.1 L219.5 319.0 L222.2 318.9 L224.8 318.8 L227.4 318.8 L230.1 318.7 L232.7 318.6 L235.4 318.6 L238.0 318.5M53.3 330.1 L55.9 330.0 L58.6 330.0 L61.2 329.9 L63.9 329.9 L66.5 329.8 L69.1 329.7 L71.8 329.7 L74.4 329.6 L77.0 329.6 L79.7 329.6 L82.3 329.6 L85.0 329.6 L87.6 329.6 L90.2 329.6 L92.9 329.6 L95.5 329.6 L98.2 329.6 L100.8 329.6 L103.4 329.6 L106.1 329.6 L108.7 329.7 L111.3 329.8 L114.0 330.0 L116.6 330.3 L119.3 330.6 L121.9 330.9 L124.5 331.2 L127.2 331.5 L129.8 331.6 L132.5 331.7 L135.1 331.7 L137.7 331.7 L140.4 331.7 L143.0 331.7 L145.6 331.8 L148.3 331.8 L150.9 331.8 L153.6 331.8 L156.2 331.8 L158.8 331.8 L161.5 331.8 L164.1 331.9 L166.8 331.9 L169.4 332.0 L172.0 332.1 L174.7 332.1 L177.3 332.2 L180.0 332.3 L182.6 332.3 L185.2 332.3 L187.9 332.2 L190.5 332.0 L193.1 331.7 L195.8 331.2 L198.4 330.8 L201.1 330.4 L203.7 329.9 L206.3 329.6 L209.0 329.4 L211.6 329.3 L214.3 329.3 L216.9 329.3 L219.5 329.3 L222.2 329.3 L224.8 329.3 L227.4 329.3 L230.1 329.3 L232.7 329.3 L235.4 329.3 L238.0 329.3M53.3 335.5 L55.9 335.3 L58.6 335.0 L61.2 334.7 L63.9 334.5 L66.5 334.2 L69.1 333.9 L71.8 333.7 L74.4 333.6 L77.0 333.4 L79.7 333.4 L82.3 333.4 L85.0 333.4 L87.6 333.4 L90.2 333.4 L92.9 333.4 L95.5 333.4 L98.2 333.4 L100.8 333.4 L103.4 333.4 L106.1 333.4 L108.7 333.5 L111.3 333.8 L114.0 334.2 L116.6 334.8 L119.3 335.4 L121.9 335.9 L124.5 336.5 L127.2 336.9 L129.8 337.2 L132.5 337.3 L135.1 337.3 L137.7 337.3 L140.4 337.3 L143.0 337.3 L145.6 337.3 L148.3 337.3 L150.9 337.3 L153.6 337.3 L156.2 337.3 L158.8 337.3 L161.5 337.3 L164.1 337.3 L166.8 337.4 L169.4 337.4 L172.0 337.5 L174.7 337.5 L177.3 337.5 L180.0 337.6 L182.6 337.6 L185.2 337.6 L187.9 337.4 L190.5 337.0 L193.1 336.3 L195.8 335.6 L198.4 334.7 L201.1 333.8 L203.7 333.1 L206.3 332.4 L209.0 332.0 L211.6 331.8 L214.3 331.8 L216.9 331.8 L219.5 331.8 L222.2 331.8 L224.8 331.8 L227.4 331.8 L230.1 331.8 L232.7 331.8 L235.4 331.8 L238.0 331.8M53.3 341.3 L55.9 341.4 L58.6 341.6 L61.2 341.7 L63.9 341.9 L66.5 342.1 L69.1 342.2 L71.8 342.3 L74.4 342.4 L77.0 342.5 L79.7 342.5 L82.3 342.5 L85.0 342.5 L87.6 342.5 L90.2 342.5 L92.9 342.5 L95.5 342.5 L98.2 342.5 L100.8 342.5 L103.4 342.5 L106.1 342.5 L108.7 342.5 L111.3 342.7 L114.0 342.9 L116.6 343.1 L119.3 343.4 L121.9 343.7 L124.5 343.9 L127.2 344.2 L129.8 344.3 L132.5 344.4 L135.1 344.4 L137.7 344.5 L140.4 344.5 L143.0 344.5 L145.6 344.5 L148.3 344.6 L150.9 344.6 L153.6 344.6 L156.2 344.6 L158.8 344.6 L161.5 344.6 L164.1 344.6 L166.8 344.6 L169.4 344.6 L172.0 344.6 L174.7 344.6 L177.3 344.6 L180.0 344.6 L182.6 344.6 L185.2 344.6 L187.9 344.5 L190.5 344.4 L193.1 344.1 L195.8 343.7 L198.4 343.4 L201.1 343.0 L203.7 342.6 L206.3 342.3 L209.0 342.0 L211.6 341.8 L214.3 341.7 L216.9 341.6 L219.5 341.5 L222.2 341.4 L224.8 341.3 L227.4 341.2 L230.1 341.1 L232.7 341.1 L235.4 341.0 L238.0 340.9M53.3 345.3 L55.9 345.3 L58.6 345.3 L61.2 345.3 L63.9 345.3 L66.5 345.3 L69.1 345.3 L71.8 345.3 L74.4 345.3 L77.0 345.3 L79.7 345.3 L82.3 345.3 L85.0 345.3 L87.6 345.3 L90.2 345.3 L92.9 345.3 L95.5 345.3 L98.2 345.3 L100.8 345.3 L103.4 345.3 L106.1 345.3 L108.7 345.4 L111.3 345.6 L114.0 346.0 L116.6 346.4 L119.3 346.9 L121.9 347.4 L124.5 347.8 L127.2 348.2 L129.8 348.5 L132.5 348.6 L135.1 348.6 L137.7 348.7 L140.4 348.7 L143.0 348.8 L145.6 348.8 L148.3 348.8 L150.9 348.8 L153.6 348.8 L156.2 348.9 L158.8 348.9 L161.5 348.9 L164.1 349.0 L166.8 349.0 L169.4 349.1 L172.0 349.1 L174.7 349.2 L177.3 349.2 L180.0 349.3 L182.6 349.3 L185.2 349.3 L187.9 349.2 L190.5 348.9 L193.1 348.6 L195.8 348.1 L198.4 347.6 L201.1 347.1 L203.7 346.6 L206.3 346.3 L209.0 346.0 L211.6 345.9 L214.3 345.9 L216.9 345.9 L219.5 345.9 L222.2 345.9 L224.8 345.9 L227.4 345.9 L230.1 345.9 L232.7 345.9 L235.4 345.9 L238.0 345.9M53.3 358.2 L55.9 358.1 L58.6 357.9 L61.2 357.8 L63.9 357.6 L66.5 357.4 L69.1 357.3 L71.8 357.2 L74.4 357.1 L77.0 357.0 L79.7 357.0 L82.3 357.0 L85.0 357.0 L87.6 357.0 L90.2 357.0 L92.9 357.0 L95.5 357.0 L98.2 357.0 L100.8 357.0 L103.4 357.0 L106.1 357.0 L108.7 357.1 L111.3 357.5 L114.0 358.0 L116.6 358.7 L119.3 359.4 L121.9 360.1 L124.5 360.8 L127.2 361.3 L129.8 361.7 L132.5 361.8 L135.1 361.8 L137.7 361.8 L140.4 361.8 L143.0 361.8 L145.6 361.8 L148.3 361.8 L150.9 361.8 L153.6 361.8 L156.2 361.8 L158.8 361.8 L161.5 361.8 L164.1 361.9 L166.8 362.0 L169.4 362.1 L172.0 362.2 L174.7 362.4 L177.3 362.5 L180.0 362.6 L182.6 362.7 L185.2 362.7 L187.9 362.6 L190.5 362.2 L193.1 361.7 L195.8 361.1 L198.4 360.4 L201.1 359.7 L203.7 359.0 L206.3 358.4 L209.0 357.9 L211.6 357.6 L214.3 357.4 L216.9 357.2 L219.5 357.1 L222.2 356.9 L224.8 356.8 L227.4 356.7 L230.1 356.6 L232.7 356.5 L235.4 356.3 L238.0 356.2M53.3 413.3 L55.9 413.1 L58.6 412.8 L61.2 412.5 L63.9 412.3 L66.5 412.0 L69.1 411.7 L71.8 411.5 L74.4 411.4 L77.0 411.2 L79.7 411.2 L82.3 411.2 L85.0 411.2 L87.6 411.2 L90.2 411.2 L92.9 411.2 L95.5 411.2 L98.2 411.2 L100.8 411.2 L103.4 411.2 L106.1 411.2 L108.7 411.2 L111.3 411.0 L114.0 410.8 L116.6 410.6 L119.3 410.4 L121.9 410.1 L124.5 409.9 L127.2 409.7 L129.8 409.5 L132.5 409.5 L135.1 409.5 L137.7 409.5 L140.4 409.5 L143.0 409.6 L145.6 409.6 L148.3 409.6 L150.9 409.7 L153.6 409.7 L156.2 409.7 L158.8 409.7 L161.5 409.7 L164.1 409.7 L166.8 409.7 L169.4 409.7 L172.0 409.7 L174.7 409.7 L177.3 409.7 L180.0 409.7 L182.6 409.7 L185.2 409.7 L187.9 409.8 L190.5 409.9 L193.1 410.1 L195.8 410.4 L198.4 410.6 L201.1 410.9 L203.7 411.2 L206.3 411.4 L209.0 411.5 L211.6 411.6 L214.3 411.6 L216.9 411.6 L219.5 411.6 L222.2 411.6 L224.8 411.6 L227.4 411.6 L230.1 411.6 L232.7 411.6 L235.4 411.6 L238.0 411.6M53.3 427.3 L55.9 426.8 L58.6 426.3 L61.2 425.8 L63.9 425.2 L66.5 424.7 L69.1 424.2 L71.8 423.7 L74.4 423.4 L77.0 423.2 L79.7 423.1 L82.3 423.1 L85.0 423.1 L87.6 423.1 L90.2 423.1 L92.9 423.1 L95.5 423.1 L98.2 423.1 L100.8 423.1 L103.4 423.1 L106.1 423.1 L108.7 423.1 L111.3 423.2 L114.0 423.4 L116.6 423.6 L119.3 423.8 L121.9 424.0 L124.5 424.2 L127.2 424.3 L129.8 424.4 L132.5 424.5 L135.1 424.5 L137.7 424.5 L140.4 424.5 L143.0 424.5 L145.6 424.6 L148.3 424.6 L150.9 424.6 L153.6 424.6 L156.2 424.6 L158.8 424.6 L161.5 424.6 L164.1 424.7 L166.8 424.9 L169.4 425.0 L172.0 425.2 L174.7 425.4 L177.3 425.6 L180.0 425.7 L182.6 425.8 L185.2 425.8 L187.9 425.8 L190.5 425.7 L193.1 425.6 L195.8 425.4 L198.4 425.3 L201.1 425.1 L203.7 425.0 L206.3 424.8 L209.0 424.7 L211.6 424.6 L214.3 424.5 L216.9 424.5 L219.5 424.4 L222.2 424.4 L224.8 424.3 L227.4 424.3 L230.1 424.2 L232.7 424.2 L235.4 424.1 L238.0 424.1M53.3 430.1 L55.9 429.6 L58.6 429.1 L61.2 428.6 L63.9 428.0 L66.5 427.5 L69.1 427.0 L71.8 426.5 L74.4 426.2 L77.0 426.0 L79.7 425.9 L82.3 425.9 L85.0 425.9 L87.6 425.9 L90.2 425.9 L92.9 425.9 L95.5 425.9 L98.2 425.9 L100.8 425.9 L103.4 425.9 L106.1 425.9 L108.7 425.9 L111.3 426.0 L114.0 426.2 L116.6 426.4 L119.3 426.6 L121.9 426.8 L124.5 427.0 L127.2 427.2 L129.8 427.3 L132.5 427.3 L135.1 427.3 L137.7 427.3 L140.4 427.2 L143.0 427.1 L145.6 427.1 L148.3 427.0 L150.9 426.9 L153.6 426.8 L156.2 426.7 L158.8 426.6 L161.5 426.5 L164.1 426.4 L166.8 426.2 L169.4 426.1 L172.0 425.9 L174.7 425.7 L177.3 425.6 L180.0 425.5 L182.6 425.4 L185.2 425.3 L187.9 425.3 L190.5 425.2 L193.1 425.2 L195.8 425.1 L198.4 425.1 L201.1 425.1 L203.7 425.0 L206.3 425.0 L209.0 425.0 L211.6 425.0 L214.3 425.0 L216.9 425.1 L219.5 425.2 L222.2 425.4 L224.8 425.6 L227.4 425.8 L230.1 426.0 L232.7 426.2 L235.4 426.4 L238.0 426.6M53.3 435.3 L55.9 435.2 L58.6 435.0 L61.2 434.9 L63.9 434.7 L66.5 434.6 L69.1 434.4 L71.8 434.3 L74.4 434.2 L77.0 434.1 L79.7 434.1 L82.3 434.1 L85.0 434.1 L87.6 434.1 L90.2 434.1 L92.9 434.1 L95.5 434.1 L98.2 434.1 L100.8 434.1 L103.4 434.1 L106.1 434.1 L108.7 434.1 L111.3 434.0 L114.0 434.0 L116.6 433.9 L119.3 433.8 L121.9 433.7 L124.5 433.6 L127.2 433.5 L129.8 433.4 L132.5 433.4 L135.1 433.4 L137.7 433.4 L140.4 433.4 L143.0 433.3 L145.6 433.3 L148.3 433.3 L150.9 433.3 L153.6 433.3 L156.2 433.3 L158.8 433.3 L161.5 433.3 L164.1 433.3 L166.8 433.3 L169.4 433.4 L172.0 433.4 L174.7 433.4 L177.3 433.5 L180.0 433.5 L182.6 433.6 L185.2 433.6 L187.9 433.7 L190.5 433.8 L193.1 433.9 L195.8 434.0 L198.4 434.2 L201.1 434.3 L203.7 434.4 L206.3 434.5 L209.0 434.6 L211.6 434.6 L214.3 434.6 L216.9 434.6 L219.5 434.6 L222.2 434.6 L224.8 434.6 L227.4 434.6 L230.1 434.6 L232.7 434.6 L235.4 434.6 L238.0 434.6M53.3 443.4 L55.9 443.2 L58.6 443.0 L61.2 442.7 L63.9 442.5 L66.5 442.3 L69.1 442.1 L71.8 441.9 L74.4 441.7 L77.0 441.6 L79.7 441.6 L82.3 441.6 L85.0 441.6 L87.6 441.6 L90.2 441.6 L92.9 441.6 L95.5 441.6 L98.2 441.6 L100.8 441.6 L103.4 441.6 L106.1 441.6 L108.7 441.6 L111.3 441.6 L114.0 441.6 L116.6 441.6 L119.3 441.6 L121.9 441.6 L124.5 441.6 L127.2 441.6 L129.8 441.6 L132.5 441.6 L135.1 441.6 L137.7 441.6 L140.4 441.6 L143.0 441.6 L145.6 441.6 L148.3 441.6 L150.9 441.6 L153.6 441.6 L156.2 441.6 L158.8 441.6 L161.5 441.6 L164.1 441.6 L166.8 441.6 L169.4 441.6 L172.0 441.6 L174.7 441.6 L177.3 441.6 L180.0 441.6 L182.6 441.6 L185.2 441.6 L187.9 441.6 L190.5 441.6 L193.1 441.7 L195.8 441.7 L198.4 441.8 L201.1 441.8 L203.7 441.8 L206.3 441.9 L209.0 441.9 L211.6 441.9 L214.3 441.9 L216.9 441.9 L219.5 441.9 L222.2 441.9 L224.8 441.9 L227.4 441.9 L230.1 441.9 L232.7 441.9 L235.4 441.9 L238.0 441.9M53.3 450.5 L55.9 450.3 L58.6 450.0 L61.2 449.7 L63.9 449.5 L66.5 449.2 L69.1 448.9 L71.8 448.7 L74.4 448.6 L77.0 448.4 L79.7 448.4 L82.3 448.4 L85.0 448.4 L87.6 448.4 L90.2 448.4 L92.9 448.4 L95.5 448.4 L98.2 448.4 L100.8 448.4 L103.4 448.4 L106.1 448.4 L108.7 448.5 L111.3 448.6 L114.0 448.8 L116.6 449.0 L119.3 449.3 L121.9 449.6 L124.5 449.8 L127.2 450.0 L129.8 450.1 L132.5 450.2 L135.1 450.2 L137.7 450.2 L140.4 450.1 L143.0 450.1 L145.6 450.0 L148.3 450.0 L150.9 450.0 L153.6 449.9 L156.2 449.9 L158.8 449.9 L161.5 449.9 L164.1 450.0 L166.8 450.1 L169.4 450.2 L172.0 450.4 L174.7 450.5 L177.3 450.6 L180.0 450.7 L182.6 450.8 L185.2 450.8 L187.9 450.8 L190.5 450.7 L193.1 450.6 L195.8 450.4 L198.4 450.3 L201.1 450.1 L203.7 450.0 L206.3 449.8 L209.0 449.7 L211.6 449.6 L214.3 449.5 L216.9 449.5 L219.5 449.4 L222.2 449.4 L224.8 449.3 L227.4 449.3 L230.1 449.2 L232.7 449.2 L235.4 449.1 L238.0 449.1" stroke="#e2574c" stroke-width="0.85" fill="none" stroke-linejoin="round" clip-path="url(#bc0)"/>
<path d="M79.69 300.7V451.0M106.07 300.7V451.0M132.46 300.7V451.0M158.84 300.7V451.0M185.23 300.7V451.0M211.61 300.7V451.0" stroke="#2a2a2a" stroke-width="0.9" stroke-dasharray="2 1.3"/>
<path d="M53.3 300.7H238.0V451.0H53.3Z" stroke="#a8a8a8" stroke-width="1.7" fill="none"/>
<path d="M53.3 300.7V451.0" stroke="#777" stroke-width="1"/>
<path d="M53.3 300.70h-2.5M53.3 322.17h-2.5M53.3 343.64h-2.5M53.3 365.11h-2.5M53.3 386.59h-2.5M53.3 408.06h-2.5M53.3 429.53h-2.5M53.3 451.00h-2.5" stroke="#555" stroke-width="0.8"/>
<text x="49.3" y="303.10" text-anchor="end" font-size="7" fill="#333">5</text>
<text x="49.3" y="324.57" text-anchor="end" font-size="7" fill="#333">4</text>
<text x="49.3" y="346.04" text-anchor="end" font-size="7" fill="#333">3</text>
<text x="49.3" y="367.51" text-anchor="end" font-size="7" fill="#333">2</text>
<text x="49.3" y="388.99" text-anchor="end" font-size="7" fill="#333">1</text>
<text x="49.3" y="410.46" text-anchor="end" font-size="7" fill="#333">0</text>
<text x="49.3" y="431.93" text-anchor="end" font-size="7" fill="#333">-1</text>
<text x="49.3" y="453.40" text-anchor="end" font-size="7" fill="#333">-2</text>
<text x="53.30" y="458.5" text-anchor="middle" font-size="7" fill="#333">Γ</text>
<text x="79.69" y="458.5" text-anchor="middle" font-size="7" fill="#333">Y</text>
<text x="106.07" y="458.5" text-anchor="middle" font-size="7" fill="#333">H</text>
<text x="132.46" y="458.5" text-anchor="middle" font-size="7" fill="#333">C</text>
<text x="158.84" y="458.5" text-anchor="middle" font-size="7" fill="#333">E</text>
<text x="185.23" y="458.5" text-anchor="middle" font-size="7" fill="#333">M</text>
<text x="211.61" y="458.5" text-anchor="middle" font-size="7" fill="#333">A</text>
<text x="238.00" y="458.5" text-anchor="middle" font-size="7" fill="#333">X</text>
<text transform="translate(39.8 375.9) rotate(-90)" text-anchor="middle" font-size="8.4" fill="#333">Energy (eV)</text>
<text x="149" y="476.7" text-anchor="middle" font-size="15" fill="#222">Ambient pressure</text>
<clipPath id="bc1"><rect x="278.1" y="303.0" width="184.7" height="150.0"/></clipPath>
<path d="M278.1 308.5 L280.7 307.9 L283.4 307.3 L286.0 306.6 L288.7 305.9 L291.3 305.2 L293.9 304.6 L296.6 304.0 L299.2 303.6 L301.8 303.3 L304.5 303.2 L307.1 303.2 L309.8 303.2 L312.4 303.2 L315.0 303.2 L317.7 303.2 L320.3 303.2 L323.0 303.2 L325.6 303.2 L328.2 303.2 L330.9 303.2 L333.5 303.4 L336.1 303.8 L338.8 304.5 L341.4 305.3 L344.1 306.2 L346.7 307.0 L349.3 307.8 L352.0 308.5 L354.6 309.0 L357.3 309.2 L359.9 309.2 L362.5 309.3 L365.2 309.3 L367.8 309.3 L370.5 309.3 L373.1 309.4 L375.7 309.4 L378.4 309.4 L381.0 309.4 L383.6 309.4 L386.3 308.6 L388.9 306.8 L391.6 304.4 L394.2 302.3 L396.8 301.0 L399.5 300.4 L402.1 299.8 L404.8 299.4 L407.4 299.1 L410.0 299.0 L412.7 299.0 L415.3 299.0 L417.9 299.0 L420.6 299.0 L423.2 299.0 L425.9 299.0 L428.5 299.0 L431.1 299.0 L433.8 299.0 L436.4 299.0 L439.1 299.2 L441.7 299.7 L444.3 300.4 L447.0 301.2 L449.6 302.0 L452.2 302.8 L454.9 303.6 L457.5 304.5 L460.2 305.3 L462.8 306.2M278.1 312.7 L280.7 313.0 L283.4 313.3 L286.0 313.6 L288.7 313.9 L291.3 314.2 L293.9 314.5 L296.6 314.7 L299.2 314.9 L301.8 315.1 L304.5 315.1 L307.1 315.1 L309.8 315.1 L312.4 315.1 L315.0 315.1 L317.7 315.1 L320.3 315.1 L323.0 315.1 L325.6 315.1 L328.2 315.1 L330.9 315.1 L333.5 315.0 L336.1 314.8 L338.8 314.4 L341.4 314.0 L344.1 313.6 L346.7 313.1 L349.3 312.7 L352.0 312.3 L354.6 312.1 L357.3 312.0 L359.9 312.0 L362.5 312.0 L365.2 312.0 L367.8 312.0 L370.5 312.1 L373.1 312.1 L375.7 312.1 L378.4 312.2 L381.0 312.2 L383.6 312.3 L386.3 312.5 L388.9 313.0 L391.6 313.6 L394.2 314.1 L396.8 314.5 L399.5 314.8 L402.1 315.0 L404.8 315.2 L407.4 315.3 L410.0 315.4 L412.7 315.3 L415.3 315.2 L417.9 315.0 L420.6 314.8 L423.2 314.6 L425.9 314.4 L428.5 314.1 L431.1 313.8 L433.8 313.6 L436.4 313.5 L439.1 313.9 L441.7 314.9 L444.3 316.2 L447.0 317.2 L449.6 317.6 L452.2 317.4 L454.9 317.0 L457.5 316.4 L460.2 315.8 L462.8 315.2M278.1 318.7 L280.7 319.1 L283.4 319.5 L286.0 319.9 L288.7 320.4 L291.3 320.8 L293.9 321.2 L296.6 321.6 L299.2 321.9 L301.8 322.0 L304.5 322.1 L307.1 322.1 L309.8 322.1 L312.4 322.1 L315.0 322.1 L317.7 322.1 L320.3 322.1 L323.0 322.1 L325.6 322.1 L328.2 322.1 L330.9 322.1 L333.5 322.0 L336.1 321.6 L338.8 321.1 L341.4 320.5 L344.1 319.9 L346.7 319.2 L349.3 318.6 L352.0 318.1 L354.6 317.7 L357.3 317.6 L359.9 317.6 L362.5 317.6 L365.2 317.6 L367.8 317.6 L370.5 317.6 L373.1 317.6 L375.7 317.6 L378.4 317.7 L381.0 317.7 L383.6 317.7 L386.3 318.1 L388.9 319.2 L391.6 320.4 L394.2 321.4 L396.8 321.8 L399.5 321.6 L402.1 321.0 L404.8 320.4 L407.4 319.7 L410.0 319.2 L412.7 318.9 L415.3 318.6 L417.9 318.4 L420.6 318.2 L423.2 318.0 L425.9 317.9 L428.5 317.7 L431.1 317.6 L433.8 317.5 L436.4 317.5 L439.1 317.7 L441.7 318.2 L444.3 318.8 L447.0 319.5 L449.6 320.0 L452.2 320.4 L454.9 320.8 L457.5 321.2 L460.2 321.6 L462.8 322.0M278.1 320.1 L280.7 320.4 L283.4 320.7 L286.0 321.0 L288.7 321.3 L291.3 321.6 L293.9 321.9 L296.6 322.1 L299.2 322.3 L301.8 322.5 L304.5 322.5 L307.1 322.5 L309.8 322.5 L312.4 322.5 L315.0 322.5 L317.7 322.5 L320.3 322.5 L323.0 322.5 L325.6 322.5 L328.2 322.5 L330.9 322.5 L333.5 322.4 L336.1 322.2 L338.8 321.8 L341.4 321.4 L344.1 320.9 L346.7 320.4 L349.3 319.9 L352.0 319.5 L354.6 319.2 L357.3 319.0 L359.9 318.9 L362.5 318.8 L365.2 318.8 L367.8 318.7 L370.5 318.6 L373.1 318.6 L375.7 318.6 L378.4 318.5 L381.0 318.5 L383.6 318.5 L386.3 318.9 L388.9 320.0 L391.6 321.2 L394.2 322.3 L396.8 322.7 L399.5 322.6 L402.1 322.4 L404.8 322.1 L407.4 321.9 L410.0 321.8 L412.7 321.9 L415.3 322.2 L417.9 322.7 L420.6 323.1 L423.2 323.4 L425.9 323.6 L428.5 323.8 L431.1 324.0 L433.8 324.2 L436.4 324.4 L439.1 324.7 L441.7 325.1 L444.3 325.6 L447.0 325.9 L449.6 326.0 L452.2 325.9 L454.9 325.5 L457.5 325.0 L460.2 324.5 L462.8 324.0M278.1 321.0 L280.7 321.2 L283.4 321.5 L286.0 321.8 L288.7 322.1 L291.3 322.4 L293.9 322.6 L296.6 322.9 L299.2 323.0 L301.8 323.2 L304.5 323.2 L307.1 323.2 L309.8 323.2 L312.4 323.2 L315.0 323.2 L317.7 323.2 L320.3 323.2 L323.0 323.2 L325.6 323.2 L328.2 323.2 L330.9 323.2 L333.5 323.1 L336.1 322.9 L338.8 322.6 L341.4 322.2 L344.1 321.7 L346.7 321.3 L349.3 320.8 L352.0 320.4 L354.6 320.2 L357.3 320.0 L359.9 319.9 L362.5 319.8 L365.2 319.8 L367.8 319.7 L370.5 319.6 L373.1 319.6 L375.7 319.6 L378.4 319.5 L381.0 319.5 L383.6 319.5 L386.3 320.0 L388.9 321.1 L391.6 322.4 L394.2 323.5 L396.8 324.0 L399.5 323.9 L402.1 323.8 L404.8 323.7 L407.4 323.6 L410.0 323.5 L412.7 323.6 L415.3 323.9 L417.9 324.3 L420.6 324.7 L423.2 325.0 L425.9 325.2 L428.5 325.4 L431.1 325.6 L433.8 325.8 L436.4 326.0 L439.1 326.4 L441.7 326.9 L444.3 327.4 L447.0 327.8 L449.6 328.0 L452.2 327.9 L454.9 327.5 L457.5 327.0 L460.2 326.5 L462.8 326.0M278.1 334.2 L280.7 334.1 L283.4 334.1 L286.0 334.0 L288.7 334.0 L291.3 333.9 L293.9 333.8 L296.6 333.8 L299.2 333.7 L301.8 333.7 L304.5 333.7 L307.1 333.7 L309.8 333.7 L312.4 333.8 L315.0 333.8 L317.7 333.9 L320.3 333.9 L323.0 334.0 L325.6 334.1 L328.2 334.1 L330.9 334.2 L333.5 334.3 L336.1 334.4 L338.8 334.5 L341.4 334.6 L344.1 334.7 L346.7 334.8 L349.3 334.9 L352.0 335.0 L354.6 335.0 L357.3 335.1 L359.9 335.1 L362.5 335.2 L365.2 335.2 L367.8 335.3 L370.5 335.3 L373.1 335.3 L375.7 335.4 L378.4 335.4 L381.0 335.4 L383.6 335.4 L386.3 334.4 L388.9 332.1 L391.6 329.3 L394.2 327.0 L396.8 326.0 L399.5 326.4 L402.1 327.3 L404.8 328.3 L407.4 329.2 L410.0 329.6 L412.7 329.6 L415.3 329.5 L417.9 329.3 L420.6 329.2 L423.2 329.0 L425.9 328.8 L428.5 328.6 L431.1 328.3 L433.8 328.2 L436.4 328.1 L439.1 328.2 L441.7 328.5 L444.3 329.0 L447.0 329.5 L449.6 330.0 L452.2 330.6 L454.9 331.4 L457.5 332.3 L460.2 333.2 L462.8 334.0M278.1 335.8 L280.7 336.2 L283.4 336.6 L286.0 337.0 L288.7 337.4 L291.3 337.9 L293.9 338.3 L296.6 338.6 L299.2 338.9 L301.8 339.0 L304.5 339.1 L307.1 339.1 L309.8 339.1 L312.4 339.1 L315.0 339.1 L317.7 339.1 L320.3 339.1 L323.0 339.1 L325.6 339.1 L328.2 339.1 L330.9 339.1 L333.5 339.0 L336.1 338.9 L338.8 338.6 L341.4 338.3 L344.1 337.9 L346.7 337.6 L349.3 337.2 L352.0 336.9 L354.6 336.7 L357.3 336.5 L359.9 336.4 L362.5 336.4 L365.2 336.3 L367.8 336.3 L370.5 336.2 L373.1 336.2 L375.7 336.2 L378.4 336.1 L381.0 336.0 L383.6 335.9 L386.3 335.1 L388.9 333.2 L391.6 331.1 L394.2 329.3 L396.8 328.6 L399.5 329.3 L402.1 331.2 L404.8 333.5 L407.4 335.8 L410.0 337.4 L412.7 338.5 L415.3 339.4 L417.9 340.2 L420.6 340.9 L423.2 341.6 L425.9 342.4 L428.5 343.2 L431.1 344.0 L433.8 344.5 L436.4 344.7 L439.1 344.0 L441.7 342.3 L444.3 340.4 L447.0 338.7 L449.6 338.0 L452.2 338.6 L454.9 340.0 L457.5 342.0 L460.2 344.1 L462.8 346.0M278.1 341.4 L280.7 341.1 L283.4 340.9 L286.0 340.6 L288.7 340.3 L291.3 340.0 L293.9 339.7 L296.6 339.5 L299.2 339.3 L301.8 339.1 L304.5 339.1 L307.1 339.1 L309.8 339.1 L312.4 339.1 L315.0 339.1 L317.7 339.1 L320.3 339.1 L323.0 339.1 L325.6 339.1 L328.2 339.1 L330.9 339.1 L333.5 339.1 L336.1 339.2 L338.8 339.3 L341.4 339.5 L344.1 339.6 L346.7 339.8 L349.3 340.0 L352.0 340.1 L354.6 340.2 L357.3 340.3 L359.9 340.3 L362.5 340.4 L365.2 340.4 L367.8 340.5 L370.5 340.5 L373.1 340.5 L375.7 340.6 L378.4 340.6 L381.0 340.6 L383.6 340.6 L386.3 340.1 L388.9 339.0 L391.6 337.6 L394.2 336.5 L396.8 336.0 L399.5 336.6 L402.1 338.0 L404.8 339.8 L407.4 341.6 L410.0 343.0 L412.7 344.0 L415.3 344.9 L417.9 345.7 L420.6 346.4 L423.2 347.0 L425.9 347.5 L428.5 348.1 L431.1 348.6 L433.8 348.9 L436.4 349.0 L439.1 348.2 L441.7 346.2 L444.3 343.8 L447.0 341.8 L449.6 341.0 L452.2 341.5 L454.9 342.8 L457.5 344.5 L460.2 346.4 L462.8 348.0M278.1 345.7 L280.7 345.7 L283.4 345.6 L286.0 345.6 L288.7 345.6 L291.3 345.5 L293.9 345.5 L296.6 345.4 L299.2 345.4 L301.8 345.4 L304.5 345.4 L307.1 345.4 L309.8 345.4 L312.4 345.4 L315.0 345.4 L317.7 345.4 L320.3 345.4 L323.0 345.4 L325.6 345.4 L328.2 345.4 L330.9 345.4 L333.5 345.4 L336.1 345.4 L338.8 345.3 L341.4 345.3 L344.1 345.2 L346.7 345.1 L349.3 345.1 L352.0 345.0 L354.6 345.0 L357.3 344.9 L359.9 344.9 L362.5 344.8 L365.2 344.8 L367.8 344.8 L370.5 344.7 L373.1 344.7 L375.7 344.6 L378.4 344.6 L381.0 344.5 L383.6 344.4 L386.3 343.9 L388.9 342.8 L391.6 341.6 L394.2 340.5 L396.8 340.1 L399.5 340.2 L402.1 340.3 L404.8 340.4 L407.4 340.5 L410.0 340.6 L412.7 340.5 L415.3 340.1 L417.9 339.7 L420.6 339.3 L423.2 339.0 L425.9 338.8 L428.5 338.7 L431.1 338.6 L433.8 338.4 L436.4 338.2 L439.1 337.7 L441.7 336.7 L444.3 335.7 L447.0 334.9 L449.6 334.6 L452.2 335.2 L454.9 336.8 L457.5 338.9 L460.2 341.1 L462.8 343.1M278.1 354.0 L280.7 353.8 L283.4 353.7 L286.0 353.5 L288.7 353.3 L291.3 353.1 L293.9 353.0 L296.6 352.8 L299.2 352.7 L301.8 352.6 L304.5 352.6 L307.1 352.6 L309.8 352.6 L312.4 352.6 L315.0 352.6 L317.7 352.6 L320.3 352.6 L323.0 352.6 L325.6 352.6 L328.2 352.6 L330.9 352.6 L333.5 352.6 L336.1 352.5 L338.8 352.5 L341.4 352.4 L344.1 352.3 L346.7 352.2 L349.3 352.1 L352.0 352.1 L354.6 352.0 L357.3 351.9 L359.9 351.8 L362.5 351.8 L365.2 351.8 L367.8 351.7 L370.5 351.7 L373.1 351.6 L375.7 351.6 L378.4 351.5 L381.0 351.4 L383.6 351.3 L386.3 350.7 L388.9 349.5 L391.6 348.1 L394.2 346.9 L396.8 346.4 L399.5 346.6 L402.1 347.1 L404.8 347.7 L407.4 348.3 L410.0 348.8 L412.7 349.2 L415.3 349.5 L417.9 349.9 L420.6 350.1 L423.2 350.4 L425.9 350.6 L428.5 350.9 L431.1 351.1 L433.8 351.2 L436.4 351.3 L439.1 351.2 L441.7 351.0 L444.3 350.7 L447.0 350.5 L449.6 350.4 L452.2 350.8 L454.9 351.9 L457.5 353.3 L460.2 354.9 L462.8 356.2M278.1 357.5 L280.7 357.2 L283.4 356.9 L286.0 356.6 L288.7 356.3 L291.3 356.0 L293.9 355.7 L296.6 355.5 L299.2 355.3 L301.8 355.1 L304.5 355.1 L307.1 355.1 L309.8 355.1 L312.4 355.1 L315.0 355.1 L317.7 355.1 L320.3 355.1 L323.0 355.1 L325.6 355.1 L328.2 355.1 L330.9 355.1 L333.5 355.1 L336.1 355.1 L338.8 355.1 L341.4 355.1 L344.1 355.1 L346.7 355.1 L349.3 355.1 L352.0 355.1 L354.6 355.1 L357.3 355.1 L359.9 355.1 L362.5 355.1 L365.2 355.1 L367.8 355.1 L370.5 355.1 L373.1 355.2 L375.7 355.2 L378.4 355.2 L381.0 355.3 L383.6 355.3 L386.3 355.5 L388.9 355.9 L391.6 356.4 L394.2 356.8 L396.8 357.0 L399.5 356.7 L402.1 355.8 L404.8 354.9 L407.4 354.0 L410.0 353.7 L412.7 354.0 L415.3 354.9 L417.9 355.9 L420.6 357.0 L423.2 357.8 L425.9 358.3 L428.5 358.8 L431.1 359.2 L433.8 359.7 L436.4 360.2 L439.1 361.0 L441.7 362.1 L444.3 363.1 L447.0 364.0 L449.6 364.3 L452.2 363.9 L454.9 363.0 L457.5 361.7 L460.2 360.3 L462.8 359.1M278.1 364.5 L280.7 364.6 L283.4 364.8 L286.0 365.0 L288.7 365.1 L291.3 365.3 L293.9 365.5 L296.6 365.6 L299.2 365.7 L301.8 365.8 L304.5 365.9 L307.1 366.0 L309.8 366.0 L312.4 366.1 L315.0 366.1 L317.7 366.2 L320.3 366.2 L323.0 366.3 L325.6 366.3 L328.2 366.3 L330.9 366.3 L333.5 366.2 L336.1 365.8 L338.8 365.2 L341.4 364.5 L344.1 363.8 L346.7 363.1 L349.3 362.4 L352.0 361.8 L354.6 361.4 L357.3 361.3 L359.9 361.3 L362.5 361.3 L365.2 361.3 L367.8 361.3 L370.5 361.3 L373.1 361.3 L375.7 361.3 L378.4 361.4 L381.0 361.4 L383.6 361.4 L386.3 361.5 L388.9 361.7 L391.6 361.9 L394.2 362.3 L396.8 362.7 L399.5 363.7 L402.1 365.4 L404.8 367.3 L407.4 369.1 L410.0 370.1 L412.7 370.6 L415.3 370.9 L417.9 371.2 L420.6 371.4 L423.2 371.7 L425.9 372.1 L428.5 372.5 L431.1 372.9 L433.8 373.2 L436.4 373.3 L439.1 372.9 L441.7 371.9 L444.3 370.6 L447.0 369.6 L449.6 369.2 L452.2 369.3 L454.9 369.4 L457.5 369.7 L460.2 369.9 L462.8 370.1M278.1 385.1 L280.7 385.5 L283.4 385.9 L286.0 386.4 L288.7 386.8 L291.3 387.3 L293.9 387.7 L296.6 388.1 L299.2 388.3 L301.8 388.5 L304.5 388.6 L307.1 388.6 L309.8 388.6 L312.4 388.6 L315.0 388.6 L317.7 388.6 L320.3 388.6 L323.0 388.6 L325.6 388.6 L328.2 388.6 L330.9 388.6 L333.5 388.4 L336.1 387.9 L338.8 387.2 L341.4 386.4 L344.1 385.5 L346.7 384.5 L349.3 383.7 L352.0 383.0 L354.6 382.5 L357.3 382.3 L359.9 382.3 L362.5 382.3 L365.2 382.4 L367.8 382.4 L370.5 382.5 L373.1 382.5 L375.7 382.5 L378.4 382.6 L381.0 382.6 L383.6 382.6 L386.3 381.8 L388.9 379.9 L391.6 377.7 L394.2 375.8 L396.8 375.0 L399.5 375.8 L402.1 377.8 L404.8 380.3 L407.4 382.6 L410.0 384.0 L412.7 384.7 L415.3 385.2 L417.9 385.6 L420.6 386.0 L423.2 386.4 L425.9 386.9 L428.5 387.5 L431.1 388.0 L433.8 388.4 L436.4 388.5 L439.1 388.0 L441.7 386.9 L444.3 385.6 L447.0 384.5 L449.6 384.0 L452.2 384.9 L454.9 387.3 L457.5 390.4 L460.2 393.8 L462.8 396.7M278.1 414.0 L280.7 413.9 L283.4 413.8 L286.0 413.7 L288.7 413.7 L291.3 413.6 L293.9 413.5 L296.6 413.4 L299.2 413.4 L301.8 413.3 L304.5 413.3 L307.1 413.3 L309.8 413.3 L312.4 413.3 L315.0 413.3 L317.7 413.3 L320.3 413.3 L323.0 413.3 L325.6 413.3 L328.2 413.3 L330.9 413.3 L333.5 413.4 L336.1 413.6 L338.8 413.9 L341.4 414.3 L344.1 414.7 L346.7 415.1 L349.3 415.5 L352.0 415.8 L354.6 416.0 L357.3 416.1 L359.9 416.1 L362.5 416.1 L365.2 416.1 L367.8 416.0 L370.5 416.0 L373.1 416.0 L375.7 415.9 L378.4 415.9 L381.0 415.9 L383.6 415.9 L386.3 416.2 L388.9 416.9 L391.6 417.9 L394.2 418.8 L396.8 419.5 L399.5 420.0 L402.1 420.4 L404.8 420.8 L407.4 421.1 L410.0 421.2 L412.7 421.0 L415.3 420.5 L417.9 419.9 L420.6 419.2 L423.2 418.7 L425.9 418.4 L428.5 418.1 L431.1 417.8 L433.8 417.5 L436.4 417.1 L439.1 416.5 L441.7 415.8 L444.3 414.9 L447.0 414.0 L449.6 413.0 L452.2 412.0 L454.9 410.9 L457.5 409.7 L460.2 408.5 L462.8 407.3M278.1 424.1 L280.7 424.0 L283.4 424.0 L286.0 423.9 L288.7 423.8 L291.3 423.7 L293.9 423.7 L296.6 423.6 L299.2 423.5 L301.8 423.5 L304.5 423.5 L307.1 423.5 L309.8 423.5 L312.4 423.5 L315.0 423.5 L317.7 423.5 L320.3 423.5 L323.0 423.5 L325.6 423.5 L328.2 423.5 L330.9 423.5 L333.5 423.6 L336.1 423.9 L338.8 424.3 L341.4 424.8 L344.1 425.4 L346.7 425.9 L349.3 426.5 L352.0 426.9 L354.6 427.2 L357.3 427.3 L359.9 427.3 L362.5 427.3 L365.2 427.3 L367.8 427.3 L370.5 427.3 L373.1 427.4 L375.7 427.4 L378.4 427.4 L381.0 427.4 L383.6 427.4 L386.3 427.9 L388.9 429.0 L391.6 430.4 L394.2 431.5 L396.8 432.0 L399.5 431.6 L402.1 430.8 L404.8 429.7 L407.4 428.9 L410.0 428.5 L412.7 428.6 L415.3 428.8 L417.9 429.0 L420.6 429.3 L423.2 429.5 L425.9 429.7 L428.5 429.9 L431.1 430.0 L433.8 430.2 L436.4 430.2 L439.1 430.1 L441.7 429.8 L444.3 429.4 L447.0 429.1 L449.6 429.0 L452.2 429.1 L454.9 429.3 L457.5 429.6 L460.2 429.9 L462.8 430.2M278.1 435.3 L280.7 435.0 L283.4 434.7 L286.0 434.4 L288.7 434.1 L291.3 433.8 L293.9 433.5 L296.6 433.3 L299.2 433.1 L301.8 432.9 L304.5 432.9 L307.1 432.9 L309.8 432.9 L312.4 432.9 L315.0 432.9 L317.7 432.9 L320.3 432.9 L323.0 432.9 L325.6 432.9 L328.2 432.9 L330.9 432.9 L333.5 433.0 L336.1 433.4 L338.8 434.0 L341.4 434.7 L344.1 435.5 L346.7 436.3 L349.3 437.0 L352.0 437.6 L354.6 438.0 L357.3 438.1 L359.9 438.1 L362.5 438.1 L365.2 438.1 L367.8 438.1 L370.5 438.1 L373.1 438.1 L375.7 438.1 L378.4 438.1 L381.0 438.1 L383.6 438.1 L386.3 438.0 L388.9 437.7 L391.6 437.4 L394.2 437.1 L396.8 437.0 L399.5 437.4 L402.1 438.4 L404.8 439.6 L407.4 440.6 L410.0 441.0 L412.7 440.9 L415.3 440.8 L417.9 440.6 L420.6 440.3 L423.2 440.0 L425.9 439.5 L428.5 438.9 L431.1 438.0 L433.8 437.0 L436.4 435.9 L439.1 434.6 L441.7 433.0 L444.3 431.2 L447.0 429.4 L449.6 427.7 L452.2 426.1 L454.9 424.4 L457.5 422.8 L460.2 421.1 L462.8 419.5M278.1 440.2 L280.7 440.3 L283.4 440.5 L286.0 440.7 L288.7 440.8 L291.3 441.0 L293.9 441.2 L296.6 441.3 L299.2 441.4 L301.8 441.5 L304.5 441.5 L307.1 441.5 L309.8 441.5 L312.4 441.5 L315.0 441.5 L317.7 441.5 L320.3 441.5 L323.0 441.5 L325.6 441.5 L328.2 441.5 L330.9 441.5 L333.5 441.5 L336.1 441.5 L338.8 441.5 L341.4 441.5 L344.1 441.6 L346.7 441.6 L349.3 441.6 L352.0 441.6 L354.6 441.6 L357.3 441.6 L359.9 441.6 L362.5 441.6 L365.2 441.6 L367.8 441.6 L370.5 441.6 L373.1 441.6 L375.7 441.6 L378.4 441.6 L381.0 441.6 L383.6 441.6 L386.3 441.6 L388.9 441.8 L391.6 442.0 L394.2 442.2 L396.8 442.5 L399.5 443.0 L402.1 443.9 L404.8 444.9 L407.4 445.7 L410.0 446.0 L412.7 445.8 L415.3 445.5 L417.9 445.0 L420.6 444.4 L423.2 444.0 L425.9 443.7 L428.5 443.4 L431.1 443.2 L433.8 442.9 L436.4 442.5 L439.1 441.9 L441.7 441.0 L444.3 440.0 L447.0 438.9 L449.6 438.0 L452.2 437.2 L454.9 436.4 L457.5 435.6 L460.2 434.8 L462.8 434.0M278.1 445.1 L280.7 445.0 L283.4 444.9 L286.0 444.8 L288.7 444.7 L291.3 444.6 L293.9 444.5 L296.6 444.4 L299.2 444.4 L301.8 444.3 L304.5 444.3 L307.1 444.3 L309.8 444.3 L312.4 444.3 L315.0 444.3 L317.7 444.3 L320.3 444.3 L323.0 444.3 L325.6 444.3 L328.2 444.3 L330.9 444.3 L333.5 444.4 L336.1 444.6 L338.8 445.0 L341.4 445.4 L344.1 445.9 L346.7 446.3 L349.3 446.7 L352.0 447.1 L354.6 447.3 L357.3 447.4 L359.9 447.4 L362.5 447.4 L365.2 447.4 L367.8 447.4 L370.5 447.4 L373.1 447.4 L375.7 447.4 L378.4 447.4 L381.0 447.4 L383.6 447.4 L386.3 447.5 L388.9 447.8 L391.6 448.2 L394.2 448.6 L396.8 449.0 L399.5 449.4 L402.1 449.8 L404.8 450.1 L407.4 450.4 L410.0 450.5 L412.7 450.4 L415.3 450.3 L417.9 450.0 L420.6 449.8 L423.2 449.5 L425.9 449.2 L428.5 448.8 L431.1 448.4 L433.8 447.9 L436.4 447.5 L439.1 447.1 L441.7 446.6 L444.3 446.1 L447.0 445.6 L449.6 445.0 L452.2 444.2 L454.9 443.2 L457.5 442.2 L460.2 441.1 L462.8 440.0M278.1 449.3 L280.7 449.2 L283.4 449.0 L286.0 448.9 L288.7 448.7 L291.3 448.6 L293.9 448.4 L296.6 448.3 L299.2 448.2 L301.8 448.1 L304.5 448.1 L307.1 448.1 L309.8 448.1 L312.4 448.1 L315.0 448.1 L317.7 448.1 L320.3 448.1 L323.0 448.1 L325.6 448.1 L328.2 448.1 L330.9 448.1 L333.5 448.2 L336.1 448.4 L338.8 448.8 L341.4 449.2 L344.1 449.6 L346.7 450.1 L349.3 450.5 L352.0 450.9 L354.6 451.1 L357.3 451.2 L359.9 451.2 L362.5 451.2 L365.2 451.2 L367.8 451.2 L370.5 451.2 L373.1 451.2 L375.7 451.2 L378.4 451.2 L381.0 451.2 L383.6 451.2 L386.3 451.4 L388.9 451.8 L391.6 452.4 L394.2 452.8 L396.8 453.0 L399.5 453.0 L402.1 453.0 L404.8 453.0 L407.4 453.0 L410.0 453.0 L412.7 453.0 L415.3 453.0 L417.9 453.0 L420.6 453.0 L423.2 453.0 L425.9 453.0 L428.5 453.0 L431.1 453.0 L433.8 453.0 L436.4 453.0 L439.1 452.7 L441.7 451.9 L444.3 450.9 L447.0 449.9 L449.6 449.0 L452.2 448.3 L454.9 447.7 L457.5 447.2 L460.2 446.6 L462.8 446.0M452.2 453.0 L462.8 441.0M456.2 453.0 L462.8 446.0M449.6 453.0 L452.2 450.8 L454.9 448.7 L457.5 446.0 L460.2 441.8 L462.8 437.0" stroke="#e2574c" stroke-width="0.85" fill="none" stroke-linejoin="round" clip-path="url(#bc1)"/>
<path d="M304.49 303.0V453.0M330.87 303.0V453.0M357.26 303.0V453.0M383.64 303.0V453.0M410.03 303.0V453.0M436.41 303.0V453.0" stroke="#2a2a2a" stroke-width="0.9" stroke-dasharray="2 1.3"/>
<path d="M278.1 303.0H462.8V453.0H278.1Z" stroke="#a8a8a8" stroke-width="1.3" fill="none"/>
<path d="M278.1 303.0V453.0" stroke="#777" stroke-width="1"/>
<path d="M278.1 303.00h-2.5M278.1 324.43h-2.5M278.1 345.86h-2.5M278.1 367.29h-2.5M278.1 388.71h-2.5M278.1 410.14h-2.5M278.1 431.57h-2.5M278.1 453.00h-2.5" stroke="#555" stroke-width="0.8"/>
<text x="274.1" y="305.40" text-anchor="end" font-size="7" fill="#333">5</text>
<text x="274.1" y="326.83" text-anchor="end" font-size="7" fill="#333">4</text>
<text x="274.1" y="348.26" text-anchor="end" font-size="7" fill="#333">3</text>
<text x="274.1" y="369.69" text-anchor="end" font-size="7" fill="#333">2</text>
<text x="274.1" y="391.11" text-anchor="end" font-size="7" fill="#333">1</text>
<text x="274.1" y="412.54" text-anchor="end" font-size="7" fill="#333">0</text>
<text x="274.1" y="433.97" text-anchor="end" font-size="7" fill="#333">-1</text>
<text x="274.1" y="455.40" text-anchor="end" font-size="7" fill="#333">-2</text>
<text x="278.10" y="458.5" text-anchor="middle" font-size="7" fill="#333">Γ</text>
<text x="304.49" y="458.5" text-anchor="middle" font-size="7" fill="#333">Y</text>
<text x="330.87" y="458.5" text-anchor="middle" font-size="7" fill="#333">H</text>
<text x="357.26" y="458.5" text-anchor="middle" font-size="7" fill="#333">C</text>
<text x="383.64" y="458.5" text-anchor="middle" font-size="7" fill="#333">E</text>
<text x="410.03" y="458.5" text-anchor="middle" font-size="7" fill="#333">M</text>
<text x="436.41" y="458.5" text-anchor="middle" font-size="7" fill="#333">A</text>
<text x="462.80" y="458.5" text-anchor="middle" font-size="7" fill="#333">X</text>
<text transform="translate(264.6 378.0) rotate(-90)" text-anchor="middle" font-size="8.4" fill="#333">Energy (eV)</text>
<text x="381.5" y="476.7" text-anchor="middle" font-size="15" fill="#222">16.0 GPa</text>
<clipPath id="bc2"><rect x="496.8" y="301.2" width="184.59999999999997" height="149.8"/></clipPath>
<path d="M496.8 313.5 L499.4 312.8 L502.1 312.0 L504.7 311.2 L507.3 310.4 L510.0 309.6 L512.6 308.8 L515.3 308.2 L517.9 307.7 L520.5 307.3 L523.2 307.2 L525.8 307.2 L528.4 307.2 L531.1 307.2 L533.7 307.2 L536.4 307.2 L539.0 307.2 L541.6 307.2 L544.3 307.2 L546.9 307.2 L549.5 307.2 L552.2 307.4 L554.8 307.9 L557.5 308.6 L560.1 309.5 L562.7 310.5 L565.4 311.5 L568.0 312.4 L570.6 313.2 L573.3 313.7 L575.9 313.9 L578.6 313.9 L581.2 313.9 L583.8 314.0 L586.5 314.0 L589.1 314.0 L591.7 314.0 L594.4 314.0 L597.0 314.0 L599.6 314.0 L602.3 314.0 L604.9 313.4 L607.6 312.1 L610.2 310.4 L612.8 309.0 L615.5 308.3 L618.1 308.2 L620.7 308.1 L623.4 308.0 L626.0 307.9 L628.7 307.8 L631.3 307.5 L633.9 306.9 L636.6 306.2 L639.2 305.5 L641.8 305.0 L644.5 304.6 L647.1 304.1 L649.8 303.8 L652.4 303.5 L655.0 303.4 L657.7 303.5 L660.3 303.7 L662.9 304.1 L665.6 304.5 L668.2 305.0 L670.9 305.8 L673.5 307.0 L676.1 308.5 L678.8 310.1 L681.4 311.5M496.8 314.9 L499.4 315.2 L502.1 315.5 L504.7 315.9 L507.3 316.3 L510.0 316.6 L512.6 317.0 L515.3 317.3 L517.9 317.5 L520.5 317.6 L523.2 317.7 L525.8 317.7 L528.4 317.7 L531.1 317.7 L533.7 317.7 L536.4 317.7 L539.0 317.7 L541.6 317.7 L544.3 317.7 L546.9 317.7 L549.5 317.7 L552.2 317.6 L554.8 317.3 L557.5 316.9 L560.1 316.5 L562.7 315.9 L565.4 315.4 L568.0 315.0 L570.6 314.6 L573.3 314.3 L575.9 314.2 L578.6 314.2 L581.2 314.2 L583.8 314.2 L586.5 314.2 L589.1 314.2 L591.7 314.2 L594.4 314.2 L597.0 314.2 L599.6 314.2 L602.3 314.2 L604.9 314.7 L607.6 316.1 L610.2 317.8 L612.8 319.4 L615.5 320.5 L618.1 321.2 L620.7 321.9 L623.4 322.5 L626.0 322.9 L628.7 323.0 L631.3 323.0 L633.9 322.9 L636.6 322.8 L639.2 322.7 L641.8 322.5 L644.5 322.2 L647.1 321.7 L649.8 321.2 L652.4 320.6 L655.0 320.2 L657.7 319.9 L660.3 319.7 L662.9 319.5 L665.6 319.3 L668.2 319.0 L670.9 318.7 L673.5 318.4 L676.1 318.0 L678.8 317.6 L681.4 317.3M496.8 321.9 L499.4 322.3 L502.1 322.7 L504.7 323.1 L507.3 323.6 L510.0 324.0 L512.6 324.4 L515.3 324.8 L517.9 325.1 L520.5 325.3 L523.2 325.4 L525.8 325.5 L528.4 325.5 L531.1 325.5 L533.7 325.6 L536.4 325.6 L539.0 325.6 L541.6 325.7 L544.3 325.7 L546.9 325.7 L549.5 325.7 L552.2 325.6 L554.8 325.2 L557.5 324.7 L560.1 324.1 L562.7 323.4 L565.4 322.8 L568.0 322.2 L570.6 321.7 L573.3 321.3 L575.9 321.2 L578.6 321.2 L581.2 321.2 L583.8 321.3 L586.5 321.3 L589.1 321.3 L591.7 321.4 L594.4 321.5 L597.0 321.6 L599.6 321.7 L602.3 321.8 L604.9 322.2 L607.6 323.1 L610.2 324.3 L612.8 325.4 L615.5 326.2 L618.1 326.8 L620.7 327.4 L623.4 328.0 L626.0 328.4 L628.7 328.7 L631.3 328.9 L633.9 329.1 L636.6 329.2 L639.2 329.4 L641.8 329.5 L644.5 329.7 L647.1 329.9 L649.8 330.1 L652.4 330.2 L655.0 330.3 L657.7 330.3 L660.3 330.3 L662.9 330.3 L665.6 330.3 L668.2 330.3 L670.9 330.1 L673.5 329.7 L676.1 329.1 L678.8 328.5 L681.4 327.9M496.8 322.9 L499.4 323.2 L502.1 323.6 L504.7 324.1 L507.3 324.5 L510.0 324.9 L512.6 325.3 L515.3 325.6 L517.9 325.9 L520.5 326.0 L523.2 326.1 L525.8 326.1 L528.4 326.1 L531.1 326.1 L533.7 326.1 L536.4 326.1 L539.0 326.1 L541.6 326.1 L544.3 326.1 L546.9 326.1 L549.5 326.1 L552.2 326.0 L554.8 325.6 L557.5 325.0 L560.1 324.3 L562.7 323.6 L565.4 322.8 L568.0 322.1 L570.6 321.5 L573.3 321.1 L575.9 321.0 L578.6 321.0 L581.2 321.0 L583.8 321.1 L586.5 321.2 L589.1 321.2 L591.7 321.4 L594.4 321.5 L597.0 321.6 L599.6 321.8 L602.3 322.0 L604.9 322.6 L607.6 323.8 L610.2 325.3 L612.8 326.8 L615.5 327.9 L618.1 328.7 L620.7 329.4 L623.4 330.0 L626.0 330.6 L628.7 331.2 L631.3 331.7 L633.9 332.3 L636.6 332.7 L639.2 333.2 L641.8 333.6 L644.5 334.0 L647.1 334.4 L649.8 334.8 L652.4 335.1 L655.0 335.2 L657.7 335.0 L660.3 334.3 L662.9 333.5 L665.6 332.7 L668.2 332.0 L670.9 331.5 L673.5 331.0 L676.1 330.5 L678.8 330.0 L681.4 329.5M496.8 337.3 L499.4 337.3 L502.1 337.3 L504.7 337.4 L507.3 337.4 L510.0 337.4 L512.6 337.4 L515.3 337.5 L517.9 337.5 L520.5 337.5 L523.2 337.5 L525.8 337.5 L528.4 337.5 L531.1 337.5 L533.7 337.5 L536.4 337.5 L539.0 337.5 L541.6 337.5 L544.3 337.5 L546.9 337.5 L549.5 337.5 L552.2 337.5 L554.8 337.5 L557.5 337.6 L560.1 337.6 L562.7 337.6 L565.4 337.7 L568.0 337.7 L570.6 337.8 L573.3 337.8 L575.9 337.8 L578.6 337.8 L581.2 337.8 L583.8 337.8 L586.5 337.8 L589.1 337.8 L591.7 337.8 L594.4 337.8 L597.0 337.7 L599.6 337.7 L602.3 337.7 L604.9 337.0 L607.6 335.3 L610.2 333.2 L612.8 331.5 L615.5 330.8 L618.1 331.3 L620.7 332.5 L623.4 334.0 L626.0 335.5 L628.7 336.5 L631.3 337.2 L633.9 337.8 L636.6 338.3 L639.2 338.7 L641.8 338.8 L644.5 338.8 L647.1 338.7 L649.8 338.7 L652.4 338.6 L655.0 338.5 L657.7 338.3 L660.3 337.9 L662.9 337.3 L665.6 336.7 L668.2 336.0 L670.9 335.1 L673.5 334.0 L676.1 332.6 L678.8 331.3 L681.4 330.0M496.8 340.1 L499.4 340.3 L502.1 340.6 L504.7 340.9 L507.3 341.2 L510.0 341.5 L512.6 341.7 L515.3 342.0 L517.9 342.1 L520.5 342.3 L523.2 342.3 L525.8 342.3 L528.4 342.3 L531.1 342.3 L533.7 342.3 L536.4 342.3 L539.0 342.3 L541.6 342.3 L544.3 342.3 L546.9 342.3 L549.5 342.3 L552.2 342.3 L554.8 342.1 L557.5 341.9 L560.1 341.7 L562.7 341.5 L565.4 341.2 L568.0 341.0 L570.6 340.8 L573.3 340.6 L575.9 340.6 L578.6 340.6 L581.2 340.6 L583.8 340.6 L586.5 340.6 L589.1 340.6 L591.7 340.6 L594.4 340.6 L597.0 340.6 L599.6 340.6 L602.3 340.6 L604.9 340.2 L607.6 339.2 L610.2 337.9 L612.8 336.9 L615.5 336.5 L618.1 337.2 L620.7 338.9 L623.4 341.2 L626.0 343.5 L628.7 345.5 L631.3 347.2 L633.9 348.8 L636.6 350.4 L639.2 351.8 L641.8 352.9 L644.5 353.8 L647.1 354.7 L649.8 355.5 L652.4 356.0 L655.0 356.2 L657.7 354.4 L660.3 350.1 L662.9 345.1 L665.6 340.8 L668.2 339.0 L670.9 339.8 L673.5 341.7 L676.1 344.3 L678.8 347.1 L681.4 349.6M496.8 341.0 L499.4 341.2 L502.1 341.5 L504.7 341.7 L507.3 342.0 L510.0 342.2 L512.6 342.5 L515.3 342.7 L517.9 342.9 L520.5 343.0 L523.2 343.0 L525.8 343.0 L528.4 343.0 L531.1 343.0 L533.7 343.0 L536.4 343.0 L539.0 343.0 L541.6 343.0 L544.3 343.0 L546.9 343.0 L549.5 343.0 L552.2 343.0 L554.8 342.8 L557.5 342.7 L560.1 342.5 L562.7 342.2 L565.4 342.0 L568.0 341.8 L570.6 341.7 L573.3 341.5 L575.9 341.5 L578.6 341.5 L581.2 341.5 L583.8 341.5 L586.5 341.5 L589.1 341.5 L591.7 341.5 L594.4 341.5 L597.0 341.5 L599.6 341.5 L602.3 341.5 L604.9 340.7 L607.6 338.9 L610.2 336.6 L612.8 334.8 L615.5 334.0 L618.1 334.6 L620.7 335.9 L623.4 337.6 L626.0 339.2 L628.7 340.0 L631.3 340.3 L633.9 340.5 L636.6 340.7 L639.2 340.9 L641.8 341.0 L644.5 341.1 L647.1 341.3 L649.8 341.4 L652.4 341.5 L655.0 341.5 L657.7 340.8 L660.3 339.2 L662.9 337.3 L665.6 335.7 L668.2 335.0 L670.9 335.0 L673.5 335.0 L676.1 335.0 L678.8 335.0 L681.4 335.0M496.8 346.3 L499.4 346.0 L502.1 345.7 L504.7 345.4 L507.3 345.1 L510.0 344.8 L512.6 344.5 L515.3 344.3 L517.9 344.1 L520.5 343.9 L523.2 343.9 L525.8 343.9 L528.4 343.9 L531.1 343.9 L533.7 343.9 L536.4 343.9 L539.0 343.9 L541.6 343.9 L544.3 343.9 L546.9 343.9 L549.5 343.9 L552.2 343.9 L554.8 344.0 L557.5 344.2 L560.1 344.4 L562.7 344.6 L565.4 344.8 L568.0 344.9 L570.6 345.1 L573.3 345.2 L575.9 345.3 L578.6 345.3 L581.2 345.4 L583.8 345.4 L586.5 345.4 L589.1 345.4 L591.7 345.5 L594.4 345.5 L597.0 345.5 L599.6 345.5 L602.3 345.5 L604.9 345.4 L607.6 345.2 L610.2 345.0 L612.8 344.8 L615.5 344.7 L618.1 344.8 L620.7 345.2 L623.4 345.6 L626.0 346.1 L628.7 346.4 L631.3 346.7 L633.9 346.9 L636.6 347.1 L639.2 347.3 L641.8 347.5 L644.5 347.6 L647.1 347.8 L649.8 347.9 L652.4 348.0 L655.0 348.0 L657.7 347.3 L660.3 345.7 L662.9 343.8 L665.6 342.2 L668.2 341.5 L670.9 341.9 L673.5 342.8 L676.1 344.0 L678.8 345.3 L681.4 346.4M496.8 348.1 L499.4 348.1 L502.1 348.2 L504.7 348.2 L507.3 348.2 L510.0 348.3 L512.6 348.3 L515.3 348.4 L517.9 348.4 L520.5 348.4 L523.2 348.4 L525.8 348.4 L528.4 348.4 L531.1 348.4 L533.7 348.4 L536.4 348.4 L539.0 348.4 L541.6 348.4 L544.3 348.4 L546.9 348.4 L549.5 348.4 L552.2 348.4 L554.8 348.2 L557.5 348.0 L560.1 347.8 L562.7 347.5 L565.4 347.3 L568.0 347.1 L570.6 346.9 L573.3 346.7 L575.9 346.7 L578.6 346.7 L581.2 346.7 L583.8 346.8 L586.5 346.8 L589.1 346.9 L591.7 346.9 L594.4 346.9 L597.0 347.0 L599.6 347.0 L602.3 347.0 L604.9 346.8 L607.6 346.5 L610.2 346.0 L612.8 345.7 L615.5 345.5 L618.1 345.7 L620.7 346.3 L623.4 347.1 L626.0 348.0 L628.7 348.8 L631.3 349.7 L633.9 350.7 L636.6 351.8 L639.2 352.8 L641.8 353.7 L644.5 354.5 L647.1 355.4 L649.8 356.2 L652.4 356.8 L655.0 357.0 L657.7 356.2 L660.3 354.4 L662.9 352.2 L665.6 350.4 L668.2 349.6 L670.9 349.8 L673.5 350.4 L676.1 351.3 L678.8 352.1 L681.4 352.9M496.8 355.4 L499.4 355.2 L502.1 355.1 L504.7 354.9 L507.3 354.7 L510.0 354.5 L512.6 354.4 L515.3 354.2 L517.9 354.1 L520.5 354.0 L523.2 354.0 L525.8 354.0 L528.4 354.0 L531.1 354.0 L533.7 354.0 L536.4 354.0 L539.0 354.0 L541.6 354.0 L544.3 354.0 L546.9 354.0 L549.5 354.0 L552.2 354.0 L554.8 353.9 L557.5 353.8 L560.1 353.8 L562.7 353.6 L565.4 353.5 L568.0 353.5 L570.6 353.4 L573.3 353.3 L575.9 353.3 L578.6 353.3 L581.2 353.3 L583.8 353.4 L586.5 353.4 L589.1 353.5 L591.7 353.6 L594.4 353.6 L597.0 353.7 L599.6 353.7 L602.3 353.7 L604.9 353.4 L607.6 352.5 L610.2 351.6 L612.8 350.7 L615.5 350.4 L618.1 351.0 L620.7 352.4 L623.4 354.2 L626.0 355.9 L628.7 357.0 L631.3 357.6 L633.9 358.2 L636.6 358.6 L639.2 359.0 L641.8 359.4 L644.5 359.8 L647.1 360.3 L649.8 360.7 L652.4 361.0 L655.0 361.1 L657.7 360.6 L660.3 359.4 L662.9 357.9 L665.6 356.7 L668.2 356.2 L670.9 356.4 L673.5 356.8 L676.1 357.4 L678.8 358.0 L681.4 358.6M496.8 359.3 L499.4 359.1 L502.1 358.9 L504.7 358.6 L507.3 358.4 L510.0 358.2 L512.6 358.0 L515.3 357.8 L517.9 357.6 L520.5 357.5 L523.2 357.5 L525.8 357.5 L528.4 357.5 L531.1 357.5 L533.7 357.5 L536.4 357.5 L539.0 357.5 L541.6 357.5 L544.3 357.5 L546.9 357.5 L549.5 357.5 L552.2 357.5 L554.8 357.5 L557.5 357.4 L560.1 357.4 L562.7 357.3 L565.4 357.3 L568.0 357.2 L570.6 357.2 L573.3 357.1 L575.9 357.1 L578.6 357.1 L581.2 357.1 L583.8 357.1 L586.5 357.0 L589.1 357.0 L591.7 357.0 L594.4 357.0 L597.0 357.0 L599.6 357.0 L602.3 357.0 L604.9 357.3 L607.6 358.1 L610.2 359.1 L612.8 359.9 L615.5 360.2 L618.1 360.1 L620.7 359.9 L623.4 359.7 L626.0 359.5 L628.7 359.4 L631.3 359.9 L633.9 361.3 L636.6 363.1 L639.2 364.8 L641.8 366.0 L644.5 366.9 L647.1 367.7 L649.8 368.5 L652.4 369.0 L655.0 369.2 L657.7 369.1 L660.3 368.9 L662.9 368.5 L665.6 368.1 L668.2 367.6 L670.9 366.8 L673.5 365.6 L676.1 364.1 L678.8 362.5 L681.4 361.1M496.8 370.6 L499.4 370.8 L502.1 371.0 L504.7 371.3 L507.3 371.5 L510.0 371.8 L512.6 372.0 L515.3 372.2 L517.9 372.4 L520.5 372.5 L523.2 372.5 L525.8 372.5 L528.4 372.5 L531.1 372.5 L533.7 372.5 L536.4 372.5 L539.0 372.5 L541.6 372.5 L544.3 372.5 L546.9 372.5 L549.5 372.5 L552.2 372.3 L554.8 371.9 L557.5 371.3 L560.1 370.6 L562.7 369.8 L565.4 368.9 L568.0 368.2 L570.6 367.6 L573.3 367.2 L575.9 367.0 L578.6 367.0 L581.2 367.0 L583.8 367.0 L586.5 367.0 L589.1 367.1 L591.7 367.1 L594.4 367.1 L597.0 367.2 L599.6 367.2 L602.3 367.3 L604.9 367.8 L607.6 369.0 L610.2 370.6 L612.8 372.4 L615.5 374.1 L618.1 376.0 L620.7 378.4 L623.4 380.7 L626.0 382.7 L628.7 384.0 L631.3 384.7 L633.9 385.3 L636.6 385.8 L639.2 386.1 L641.8 386.4 L644.5 386.6 L647.1 386.9 L649.8 387.0 L652.4 387.2 L655.0 387.2 L657.7 386.1 L660.3 383.5 L662.9 380.3 L665.6 377.7 L668.2 376.6 L670.9 376.7 L673.5 377.0 L676.1 377.4 L678.8 377.8 L681.4 378.2M496.8 391.2 L499.4 391.6 L502.1 392.1 L504.7 392.6 L507.3 393.1 L510.0 393.6 L512.6 394.1 L515.3 394.5 L517.9 394.8 L520.5 395.0 L523.2 395.1 L525.8 395.1 L528.4 395.1 L531.1 395.1 L533.7 395.1 L536.4 395.1 L539.0 395.1 L541.6 395.1 L544.3 395.1 L546.9 395.1 L549.5 395.1 L552.2 394.9 L554.8 394.4 L557.5 393.6 L560.1 392.7 L562.7 391.6 L565.4 390.6 L568.0 389.6 L570.6 388.9 L573.3 388.3 L575.9 388.1 L578.6 388.1 L581.2 388.1 L583.8 388.1 L586.5 388.1 L589.1 388.1 L591.7 388.0 L594.4 388.0 L597.0 388.0 L599.6 388.0 L602.3 388.0 L604.9 387.2 L607.6 385.4 L610.2 383.3 L612.8 381.5 L615.5 380.7 L618.1 382.3 L620.7 386.2 L623.4 390.9 L626.0 395.0 L628.7 397.0 L631.3 397.5 L633.9 397.8 L636.6 398.0 L639.2 398.2 L641.8 398.5 L644.5 398.8 L647.1 399.2 L649.8 399.6 L652.4 399.9 L655.0 400.0 L657.7 399.3 L660.3 397.5 L662.9 395.5 L665.6 393.7 L668.2 393.0 L670.9 393.5 L673.5 394.7 L676.1 396.3 L678.8 398.0 L681.4 399.5M496.8 412.5 L499.4 412.4 L502.1 412.3 L504.7 412.1 L507.3 412.0 L510.0 411.9 L512.6 411.8 L515.3 411.7 L517.9 411.6 L520.5 411.5 L523.2 411.5 L525.8 411.5 L528.4 411.5 L531.1 411.5 L533.7 411.5 L536.4 411.5 L539.0 411.5 L541.6 411.5 L544.3 411.5 L546.9 411.5 L549.5 411.5 L552.2 411.6 L554.8 411.9 L557.5 412.4 L560.1 413.0 L562.7 413.6 L565.4 414.2 L568.0 414.8 L570.6 415.3 L573.3 415.6 L575.9 415.7 L578.6 415.7 L581.2 415.7 L583.8 415.6 L586.5 415.6 L589.1 415.5 L591.7 415.5 L594.4 415.5 L597.0 415.4 L599.6 415.4 L602.3 415.4 L604.9 415.8 L607.6 416.7 L610.2 418.1 L612.8 419.7 L615.5 421.2 L618.1 423.2 L620.7 425.8 L623.4 428.5 L626.0 430.5 L628.7 431.3 L631.3 431.0 L633.9 430.3 L636.6 429.4 L639.2 428.5 L641.8 427.7 L644.5 427.2 L647.1 426.8 L649.8 426.4 L652.4 425.9 L655.0 425.2 L657.7 423.7 L660.3 421.2 L662.9 418.3 L665.6 415.4 L668.2 413.0 L670.9 411.2 L673.5 409.5 L676.1 407.9 L678.8 406.4 L681.4 404.8M496.8 421.6 L499.4 421.6 L502.1 421.5 L504.7 421.5 L507.3 421.5 L510.0 421.4 L512.6 421.4 L515.3 421.3 L517.9 421.3 L520.5 421.3 L523.2 421.3 L525.8 421.3 L528.4 421.3 L531.1 421.3 L533.7 421.3 L536.4 421.3 L539.0 421.3 L541.6 421.3 L544.3 421.3 L546.9 421.3 L549.5 421.3 L552.2 421.4 L554.8 421.8 L557.5 422.3 L560.1 423.0 L562.7 423.7 L565.4 424.4 L568.0 425.1 L570.6 425.6 L573.3 426.0 L575.9 426.1 L578.6 426.1 L581.2 426.1 L583.8 426.0 L586.5 426.0 L589.1 425.9 L591.7 425.8 L594.4 425.8 L597.0 425.7 L599.6 425.7 L602.3 425.7 L604.9 426.7 L607.6 429.1 L610.2 432.0 L612.8 434.5 L615.5 435.9 L618.1 436.3 L620.7 436.6 L623.4 436.8 L626.0 437.0 L628.7 437.2 L631.3 437.4 L633.9 437.5 L636.6 437.7 L639.2 437.8 L641.8 438.0 L644.5 438.2 L647.1 438.5 L649.8 438.8 L652.4 439.0 L655.0 439.1 L657.7 438.3 L660.3 436.2 L662.9 433.4 L665.6 430.3 L668.2 427.7 L670.9 425.4 L673.5 423.1 L676.1 420.9 L678.8 418.6 L681.4 416.3M513.9 302.6 L517.0 302.2 L520.1 301.8 L523.2 301.6 L525.8 301.6 L528.4 301.6 L531.1 301.6 L533.7 301.6 L536.4 301.6 L539.0 301.6 L541.6 301.6 L544.3 301.6 L546.9 301.6 L549.5 301.6 L552.5 301.7 L555.5 302.0 L558.4 302.3 L561.4 302.6M620.7 300.5 L623.4 302.0 L626.0 303.5 L628.7 304.2 L631.3 303.5 L633.9 302.0 L636.6 300.5M674.8 300.5 L681.4 303.4M496.8 435.6 L499.4 435.3 L502.1 435.0 L504.7 434.7 L507.3 434.4 L510.0 434.0 L512.6 433.7 L515.3 433.5 L517.9 433.3 L520.5 433.1 L523.2 433.1 L525.8 433.1 L528.4 433.1 L531.1 433.1 L533.7 433.1 L536.4 433.1 L539.0 433.1 L541.6 433.1 L544.3 433.1 L546.9 433.1 L549.5 433.1 L552.2 433.2 L554.8 433.7 L557.5 434.2 L560.1 435.0 L562.7 435.8 L565.4 436.5 L568.0 437.3 L570.6 437.8 L573.3 438.3 L575.9 438.4 L578.6 438.4 L581.2 438.4 L583.8 438.4 L586.5 438.4 L589.1 438.4 L591.7 438.3 L594.4 438.3 L597.0 438.3 L599.6 438.3 L602.3 438.3 L604.9 438.8 L607.6 440.0 L610.2 441.6 L612.8 444.3 L615.5 448.1 L618.1 452.0M496.8 439.1 L499.4 439.3 L502.1 439.4 L504.7 439.6 L507.3 439.8 L510.0 440.0 L512.6 440.1 L515.3 440.3 L517.9 440.4 L520.5 440.5 L523.2 440.5 L525.8 440.5 L528.4 440.5 L531.1 440.5 L533.7 440.5 L536.4 440.5 L539.0 440.5 L541.6 440.5 L544.3 440.5 L546.9 440.5 L549.5 440.5 L552.2 440.5 L554.8 440.6 L557.5 440.6 L560.1 440.7 L562.7 440.8 L565.4 441.0 L568.0 441.1 L570.6 441.2 L573.3 441.2 L575.9 441.3 L578.6 441.3 L581.2 441.4 L583.8 441.4 L586.5 441.4 L589.1 441.4 L591.7 441.4 L594.4 441.5 L597.0 441.5 L599.6 441.5 L602.3 441.6 L605.4 442.0 L608.4 442.8 L611.5 444.0 L614.6 446.0 L617.7 449.0 L620.7 452.0M496.8 444.1 L499.4 444.0 L502.1 443.8 L504.7 443.7 L507.3 443.5 L510.0 443.4 L512.6 443.2 L515.3 443.1 L517.9 443.0 L520.5 442.9 L523.2 442.9 L525.8 442.9 L528.4 442.9 L531.1 442.9 L533.7 442.9 L536.4 442.9 L539.0 442.9 L541.6 442.9 L544.3 442.9 L546.9 442.9 L549.5 442.9 L552.2 443.0 L554.8 443.3 L557.5 443.8 L560.1 444.4 L562.7 445.0 L565.4 445.6 L568.0 446.2 L570.6 446.7 L573.3 447.0 L575.9 447.1 L578.6 447.1 L581.2 447.1 L583.8 447.1 L586.5 447.1 L589.1 447.1 L591.7 447.1 L594.4 447.1 L597.0 447.1 L599.6 447.1 L602.3 447.1 L604.9 447.4 L607.6 448.1 L610.2 449.0 L612.8 450.4 L615.5 452.0M496.8 449.4 L499.4 449.2 L502.1 449.1 L504.7 448.9 L507.3 448.7 L510.0 448.5 L512.6 448.4 L515.3 448.2 L517.9 448.1 L520.5 448.0 L523.2 448.0 L525.8 448.0 L528.4 448.0 L531.1 448.0 L533.7 448.0 L536.4 448.0 L539.0 448.0 L541.6 448.0 L544.3 448.0 L546.9 448.0 L549.5 448.0 L552.2 448.1 L554.8 448.3 L557.5 448.6 L560.1 449.1 L562.7 449.5 L565.4 449.9 L568.0 450.4 L570.6 450.7 L573.3 450.9 L575.9 451.0 L578.6 451.0 L581.2 451.0 L583.8 451.0 L586.5 451.0 L589.1 451.0 L591.7 451.0 L594.4 451.0 L597.0 451.0 L599.6 451.0 L602.3 451.0M641.8 452.0 L644.5 451.1 L647.1 450.3 L649.8 449.4 L652.4 448.5 L655.0 447.3 L657.7 445.7 L660.3 443.7 L662.9 441.5 L665.6 439.4 L668.2 437.5 L670.9 435.9 L673.5 434.4 L676.1 433.0 L678.8 431.6 L681.4 430.2M670.9 452.0 L681.4 435.9M674.8 452.0 L681.4 441.0M678.2 452.0 L681.4 446.0" stroke="#e2574c" stroke-width="0.85" fill="none" stroke-linejoin="round" clip-path="url(#bc2)"/>
<path d="M523.17 301.2V451.0M549.54 301.2V451.0M575.91 301.2V451.0M602.29 301.2V451.0M628.66 301.2V451.0M655.03 301.2V451.0" stroke="#2a2a2a" stroke-width="0.9" stroke-dasharray="2 1.3"/>
<path d="M496.8 301.2H681.4V451.0H496.8Z" stroke="#a8a8a8" stroke-width="1.3" fill="none"/>
<path d="M496.8 301.2V451.0" stroke="#777" stroke-width="1"/>
<path d="M496.8 301.20h-2.5M496.8 322.60h-2.5M496.8 344.00h-2.5M496.8 365.40h-2.5M496.8 386.80h-2.5M496.8 408.20h-2.5M496.8 429.60h-2.5M496.8 451.00h-2.5" stroke="#555" stroke-width="0.8"/>
<text x="492.8" y="303.60" text-anchor="end" font-size="7" fill="#333">5</text>
<text x="492.8" y="325.00" text-anchor="end" font-size="7" fill="#333">4</text>
<text x="492.8" y="346.40" text-anchor="end" font-size="7" fill="#333">3</text>
<text x="492.8" y="367.80" text-anchor="end" font-size="7" fill="#333">2</text>
<text x="492.8" y="389.20" text-anchor="end" font-size="7" fill="#333">1</text>
<text x="492.8" y="410.60" text-anchor="end" font-size="7" fill="#333">0</text>
<text x="492.8" y="432.00" text-anchor="end" font-size="7" fill="#333">-1</text>
<text x="492.8" y="453.40" text-anchor="end" font-size="7" fill="#333">-2</text>
<text x="496.80" y="458.5" text-anchor="middle" font-size="7" fill="#333">Γ</text>
<text x="523.17" y="458.5" text-anchor="middle" font-size="7" fill="#333">Y</text>
<text x="549.54" y="458.5" text-anchor="middle" font-size="7" fill="#333">H</text>
<text x="575.91" y="458.5" text-anchor="middle" font-size="7" fill="#333">C</text>
<text x="602.29" y="458.5" text-anchor="middle" font-size="7" fill="#333">E</text>
<text x="628.66" y="458.5" text-anchor="middle" font-size="7" fill="#333">M</text>
<text x="655.03" y="458.5" text-anchor="middle" font-size="7" fill="#333">A</text>
<text x="681.40" y="458.5" text-anchor="middle" font-size="7" fill="#333">X</text>
<text transform="translate(483.3 376.1) rotate(-90)" text-anchor="middle" font-size="8.4" fill="#333">Energy (eV)</text>
<text x="602.5" y="476.7" text-anchor="middle" font-size="15" fill="#222">28.0 GPa</text>
</svg></body></html>
